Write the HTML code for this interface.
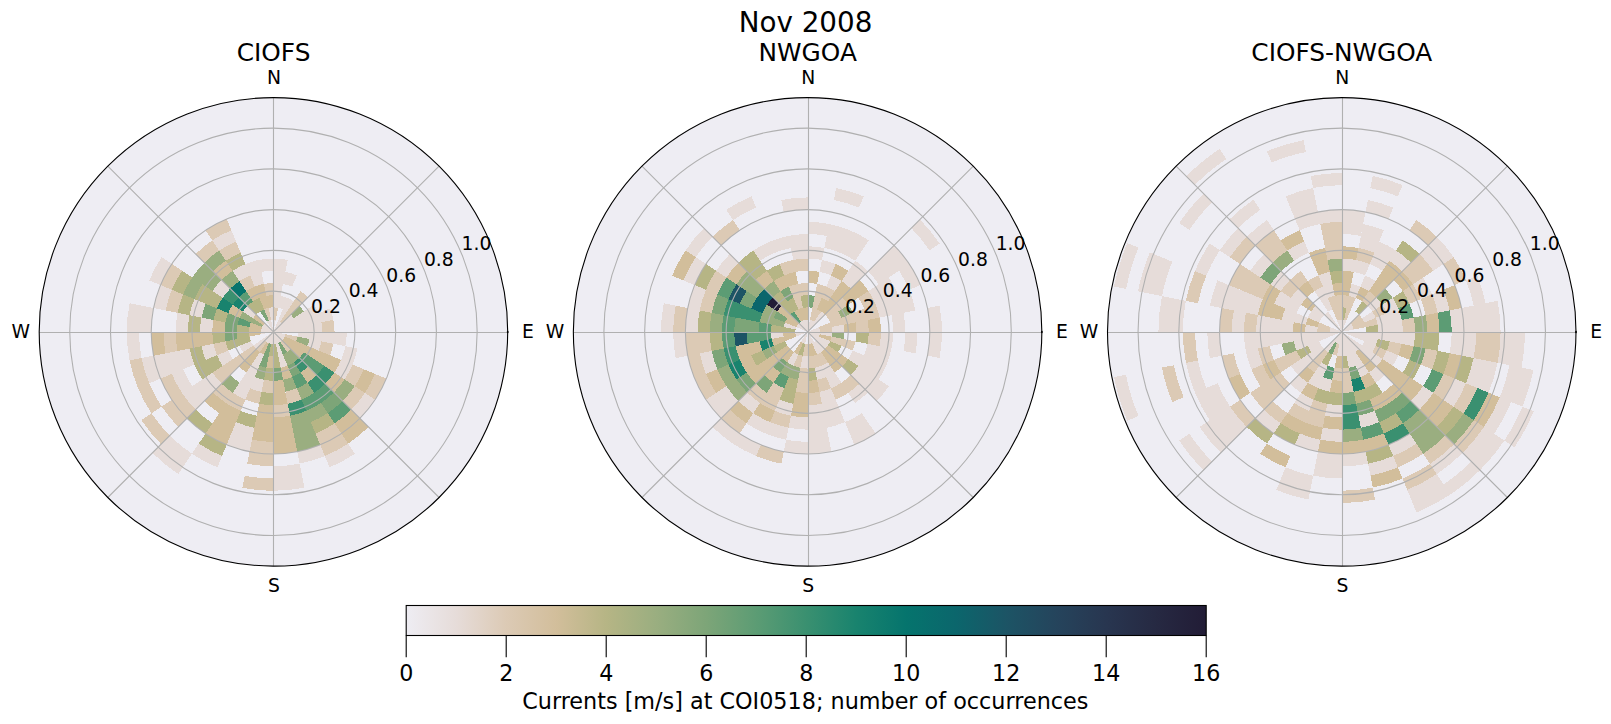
<!DOCTYPE html>
<html><head><meta charset="utf-8"><title>Nov 2008</title><style>html,body{margin:0;padding:0;background:#fff}svg{display:block}</style></head><body>
<svg width="1611" height="724" viewBox="0 0 1611 724" font-family="'DejaVu Sans','Liberation Sans',sans-serif" fill="#000">
<rect width="1611" height="724" fill="#fff"/>
<g>
<circle cx="273.45" cy="331.85" r="234.25" fill="#eeedf3"/>
<clipPath id="c0"><circle cx="273.45" cy="331.85" r="234.25"/></clipPath>
<g clip-path="url(#c0)">
<g shape-rendering="crispEdges">
<path fill="#e6dcd9" d="M273.45 331.85L273.45 319.63A12.22 12.22 0 0 1 275.83 319.86ZM273.45 307.41L273.45 258.52A73.33 73.33 0 0 1 287.76 259.93L278.22 307.88A24.44 24.44 0 0 0 273.45 307.41ZM278.22 307.88L280.60 295.89A36.67 36.67 0 0 1 287.48 297.98L282.80 309.27A24.44 24.44 0 0 0 278.22 307.88ZM282.99 283.90L285.37 271.92A61.11 61.11 0 0 1 296.84 275.39L292.16 286.68A48.89 48.89 0 0 0 282.99 283.90ZM273.45 331.85L287.48 297.98A36.67 36.67 0 0 1 293.82 301.36ZM273.45 331.85L280.24 321.69A12.22 12.22 0 0 1 282.09 323.21ZM273.45 331.85L290.73 314.57A24.44 24.44 0 0 1 293.77 318.27ZM273.45 331.85L314.10 304.69A48.89 48.89 0 0 1 318.62 313.14ZM273.45 331.85L329.91 308.46A61.11 61.11 0 0 1 333.38 319.93ZM273.45 331.85L321.40 322.31A48.89 48.89 0 0 1 322.34 331.85ZM297.89 331.85L346.78 331.85A73.33 73.33 0 0 1 345.37 346.16L297.42 336.62A24.44 24.44 0 0 0 297.89 331.85ZM273.45 331.85L285.44 334.23A12.22 12.22 0 0 1 284.74 336.53ZM309.41 339.00L321.40 341.39A48.89 48.89 0 0 1 318.62 350.56L307.32 345.88A36.67 36.67 0 0 0 309.41 339.00ZM345.37 346.16L357.36 348.54A85.55 85.55 0 0 1 352.49 364.59L341.20 359.91A73.33 73.33 0 0 0 345.37 346.16ZM273.45 331.85L284.74 336.53A12.22 12.22 0 0 1 283.61 338.64ZM341.20 359.91L352.49 364.59A85.55 85.55 0 0 1 344.58 379.38L334.42 372.59A73.33 73.33 0 0 0 341.20 359.91ZM273.45 331.85L283.61 338.64A12.22 12.22 0 0 1 282.09 340.49ZM364.91 392.96L375.07 399.75A122.22 122.22 0 0 1 359.87 418.27L351.23 409.63A110.00 110.00 0 0 0 364.91 392.96ZM273.45 331.85L282.09 340.49A12.22 12.22 0 0 1 280.24 342.01ZM273.45 331.85L280.24 342.01A12.22 12.22 0 0 1 278.13 343.14ZM348.14 443.63L354.93 453.79A146.66 146.66 0 0 1 329.57 467.35L324.90 456.06A134.44 134.44 0 0 0 348.14 443.63ZM273.45 331.85L287.48 365.72A36.67 36.67 0 0 1 280.60 367.81ZM320.22 444.76L324.90 456.06A134.44 134.44 0 0 1 299.68 463.71L297.29 451.72A122.22 122.22 0 0 0 320.22 444.76ZM273.45 331.85L275.83 343.84A12.22 12.22 0 0 1 273.45 344.07ZM299.68 463.71L304.45 487.68A158.88 158.88 0 0 1 273.45 490.73L273.45 466.29A134.44 134.44 0 0 0 299.68 463.71ZM273.45 331.85L273.45 344.07A12.22 12.22 0 0 1 271.07 343.84ZM273.45 331.85L271.07 343.84A12.22 12.22 0 0 1 268.77 343.14ZM263.91 379.80L261.53 391.78A61.11 61.11 0 0 1 250.06 388.31L254.74 377.02A48.89 48.89 0 0 0 263.91 379.80ZM254.38 427.75L249.61 451.72A122.22 122.22 0 0 1 226.68 444.76L236.03 422.18A97.77 97.77 0 0 0 254.38 427.75ZM273.45 331.85L268.77 343.14A12.22 12.22 0 0 1 266.66 342.01ZM264.10 354.43L245.39 399.60A73.33 73.33 0 0 1 232.71 392.82L259.87 352.17A24.44 24.44 0 0 0 264.10 354.43ZM222.00 456.06L217.33 467.35A146.66 146.66 0 0 1 191.97 453.79L198.76 443.63A134.44 134.44 0 0 0 222.00 456.06ZM273.45 331.85L266.66 342.01A12.22 12.22 0 0 1 264.81 340.49ZM191.97 453.79L178.39 474.12A171.10 171.10 0 0 1 152.46 452.84L169.75 435.55A146.66 146.66 0 0 0 191.97 453.79ZM273.45 331.85L256.17 349.13A24.44 24.44 0 0 1 253.13 345.43ZM221.60 383.70L195.67 409.63A110.00 110.00 0 0 1 181.99 392.96L212.48 372.59A73.33 73.33 0 0 0 221.60 383.70ZM253.13 345.43L242.96 352.22A36.67 36.67 0 0 1 239.58 345.88L250.87 341.20A24.44 24.44 0 0 0 253.13 345.43ZM232.80 359.01L222.64 365.80A61.11 61.11 0 0 1 216.99 355.24L228.28 350.56A48.89 48.89 0 0 0 232.80 359.01ZM192.15 386.17L181.99 392.96A110.00 110.00 0 0 1 171.83 373.94L183.12 369.27A97.77 97.77 0 0 0 192.15 386.17ZM216.99 355.24L205.70 359.91A73.33 73.33 0 0 1 201.53 346.16L213.52 343.77A61.11 61.11 0 0 0 216.99 355.24ZM194.41 364.59L149.24 383.30A134.44 134.44 0 0 1 141.59 358.08L189.54 348.54A85.55 85.55 0 0 0 194.41 364.59ZM273.45 331.85L261.46 334.23A12.22 12.22 0 0 1 261.23 331.85ZM141.59 358.08L129.61 360.46A146.66 146.66 0 0 1 126.79 331.85L139.01 331.85A134.44 134.44 0 0 0 141.59 358.08ZM273.45 331.85L261.23 331.85A12.22 12.22 0 0 1 261.46 329.47ZM212.34 331.85L200.12 331.85A73.33 73.33 0 0 1 201.53 317.54L213.52 319.93A61.11 61.11 0 0 0 212.34 331.85ZM187.90 331.85L175.68 331.85A97.77 97.77 0 0 1 177.55 312.78L189.54 315.16A85.55 85.55 0 0 0 187.90 331.85ZM151.23 331.85L126.79 331.85A146.66 146.66 0 0 1 129.61 303.24L153.58 308.01A122.22 122.22 0 0 0 151.23 331.85ZM273.45 331.85L261.46 329.47A12.22 12.22 0 0 1 262.16 327.17ZM201.53 317.54L189.54 315.16A85.55 85.55 0 0 1 194.41 299.11L205.70 303.79A73.33 73.33 0 0 0 201.53 317.54ZM165.57 310.39L153.58 308.01A122.22 122.22 0 0 1 160.54 285.08L171.83 289.76A110.00 110.00 0 0 0 165.57 310.39ZM273.45 331.85L262.16 327.17A12.22 12.22 0 0 1 263.29 325.06ZM160.54 285.08L149.24 280.40A134.44 134.44 0 0 1 161.67 257.16L171.83 263.95A122.22 122.22 0 0 0 160.54 285.08ZM273.45 331.85L263.29 325.06A12.22 12.22 0 0 1 264.81 323.21ZM253.13 318.27L242.96 311.48A36.67 36.67 0 0 1 247.52 305.92L256.17 314.57A24.44 24.44 0 0 0 253.13 318.27ZM222.64 297.90L212.48 291.11A73.33 73.33 0 0 1 221.60 280.00L230.24 288.64A61.11 61.11 0 0 0 222.64 297.90ZM273.45 331.85L266.66 321.69A12.22 12.22 0 0 1 268.77 320.56ZM239.50 281.04L232.71 270.88A73.33 73.33 0 0 1 245.39 264.10L250.06 275.39A61.11 61.11 0 0 0 239.50 281.04ZM219.13 250.55L212.34 240.39A110.00 110.00 0 0 1 231.36 230.23L236.03 241.52A97.77 97.77 0 0 0 219.13 250.55ZM273.45 331.85L268.77 320.56A12.22 12.22 0 0 1 271.07 319.86ZM254.74 286.68L245.39 264.10A73.33 73.33 0 0 1 259.14 259.93L263.91 283.90A48.89 48.89 0 0 0 254.74 286.68ZM271.07 319.86L268.68 307.88A24.44 24.44 0 0 1 273.45 307.41L273.45 319.63A12.22 12.22 0 0 0 271.07 319.86ZM261.53 271.92L259.14 259.93A73.33 73.33 0 0 1 273.45 258.52L273.45 270.74A61.11 61.11 0 0 0 261.53 271.92Z"/>
<path fill="#dccab5" d="M273.45 319.63L273.45 307.41A24.44 24.44 0 0 1 278.22 307.88L275.83 319.86A12.22 12.22 0 0 0 273.45 319.63ZM280.24 321.69L300.61 291.20A48.89 48.89 0 0 1 308.02 297.28L282.09 323.21A12.22 12.22 0 0 0 280.24 321.69ZM321.40 322.31L333.38 319.93A61.11 61.11 0 0 1 334.56 331.85L322.34 331.85A48.89 48.89 0 0 0 321.40 322.31ZM285.44 334.23L297.42 336.62A24.44 24.44 0 0 1 296.03 341.20L284.74 336.53A12.22 12.22 0 0 0 285.44 334.23ZM321.40 341.39L333.38 343.77A61.11 61.11 0 0 1 329.91 355.24L318.62 350.56A48.89 48.89 0 0 0 321.40 341.39ZM352.49 364.59L363.78 369.27A97.77 97.77 0 0 1 354.75 386.17L344.58 379.38A85.55 85.55 0 0 0 352.49 364.59ZM375.07 373.94L386.36 378.62A122.22 122.22 0 0 1 375.07 399.75L364.91 392.96A110.00 110.00 0 0 0 375.07 373.94ZM354.75 386.17L364.91 392.96A110.00 110.00 0 0 1 351.23 409.63L342.59 400.99A97.77 97.77 0 0 0 354.75 386.17ZM282.09 340.49L290.73 349.13A24.44 24.44 0 0 1 287.03 352.17L280.24 342.01A12.22 12.22 0 0 0 282.09 340.49ZM334.56 423.31L348.14 443.63A134.44 134.44 0 0 1 324.90 456.06L315.54 433.47A110.00 110.00 0 0 0 334.56 423.31ZM296.84 388.31L301.51 399.60A73.33 73.33 0 0 1 287.76 403.77L285.37 391.78A61.11 61.11 0 0 0 296.84 388.31ZM287.76 403.77L290.14 415.76A85.55 85.55 0 0 1 273.45 417.40L273.45 405.18A73.33 73.33 0 0 0 287.76 403.77ZM273.45 380.74L273.45 392.96A61.11 61.11 0 0 1 261.53 391.78L263.91 379.80A48.89 48.89 0 0 0 273.45 380.74ZM273.45 441.85L273.45 466.29A134.44 134.44 0 0 1 247.22 463.71L251.99 439.73A110.00 110.00 0 0 0 273.45 441.85ZM273.45 478.51L273.45 490.73A158.88 158.88 0 0 1 242.45 487.68L244.84 475.69A146.66 146.66 0 0 0 273.45 478.51ZM261.53 391.78L259.14 403.77A73.33 73.33 0 0 1 245.39 399.60L250.06 388.31A61.11 61.11 0 0 0 261.53 391.78ZM245.39 399.60L240.71 410.89A85.55 85.55 0 0 1 225.92 402.98L232.71 392.82A73.33 73.33 0 0 0 245.39 399.60ZM266.66 342.01L259.87 352.17A24.44 24.44 0 0 1 256.17 349.13L264.81 340.49A12.22 12.22 0 0 0 266.66 342.01ZM232.71 392.82L225.92 402.98A85.55 85.55 0 0 1 212.96 392.34L221.60 383.70A73.33 73.33 0 0 0 232.71 392.82ZM256.17 349.13L221.60 383.70A73.33 73.33 0 0 1 212.48 372.59L253.13 345.43A24.44 24.44 0 0 0 256.17 349.13ZM195.67 409.63L178.39 426.91A134.44 134.44 0 0 1 161.67 406.54L181.99 392.96A110.00 110.00 0 0 0 195.67 409.63ZM169.75 435.55L161.10 444.20A158.88 158.88 0 0 1 141.34 420.12L151.51 413.33A146.66 146.66 0 0 0 169.75 435.55ZM181.99 392.96L171.83 399.75A122.22 122.22 0 0 1 160.54 378.62L171.83 373.94A110.00 110.00 0 0 0 181.99 392.96ZM161.67 406.54L151.51 413.33A146.66 146.66 0 0 1 137.95 387.97L149.24 383.30A134.44 134.44 0 0 0 161.67 406.54ZM228.28 350.56L216.99 355.24A61.11 61.11 0 0 1 213.52 343.77L225.50 341.39A48.89 48.89 0 0 0 228.28 350.56ZM149.24 383.30L137.95 387.97A146.66 146.66 0 0 1 129.61 360.46L141.59 358.08A134.44 134.44 0 0 0 149.24 383.30ZM177.55 350.92L165.57 353.31A110.00 110.00 0 0 1 163.45 331.85L175.68 331.85A97.77 97.77 0 0 0 177.55 350.92ZM177.55 312.78L165.57 310.39A110.00 110.00 0 0 1 171.83 289.76L183.12 294.43A97.77 97.77 0 0 0 177.55 312.78ZM171.83 289.76L160.54 285.08A122.22 122.22 0 0 1 171.83 263.95L181.99 270.74A110.00 110.00 0 0 0 171.83 289.76ZM204.31 262.71L195.67 254.07A110.00 110.00 0 0 1 212.34 240.39L219.13 250.55A97.77 97.77 0 0 0 204.31 262.71ZM246.29 291.20L239.50 281.04A61.11 61.11 0 0 1 250.06 275.39L254.74 286.68A48.89 48.89 0 0 0 246.29 291.20ZM225.92 260.72L219.13 250.55A97.77 97.77 0 0 1 236.03 241.52L240.71 252.81A85.55 85.55 0 0 0 225.92 260.72ZM212.34 240.39L205.55 230.23A122.22 122.22 0 0 1 226.68 218.94L231.36 230.23A110.00 110.00 0 0 0 212.34 240.39ZM268.77 320.56L264.10 309.27A24.44 24.44 0 0 1 268.68 307.88L271.07 319.86A12.22 12.22 0 0 0 268.77 320.56ZM266.30 295.89L263.91 283.90A48.89 48.89 0 0 1 273.45 282.96L273.45 295.18A36.67 36.67 0 0 0 266.30 295.89Z"/>
<path fill="#9aae80" d="M290.73 314.57L299.38 305.92A36.67 36.67 0 0 1 303.94 311.48L293.77 318.27A24.44 24.44 0 0 0 290.73 314.57ZM297.42 336.62L309.41 339.00A36.67 36.67 0 0 1 307.32 345.88L296.03 341.20A24.44 24.44 0 0 0 297.42 336.62ZM344.58 379.38L354.75 386.17A97.77 97.77 0 0 1 342.59 400.99L333.94 392.34A85.55 85.55 0 0 0 344.58 379.38ZM290.73 349.13L299.38 357.78A36.67 36.67 0 0 1 293.82 362.34L287.03 352.17A24.44 24.44 0 0 0 290.73 349.13ZM287.03 352.17L293.82 362.34A36.67 36.67 0 0 1 287.48 365.72L282.80 354.43A24.44 24.44 0 0 0 287.03 352.17ZM307.40 382.66L314.19 392.82A73.33 73.33 0 0 1 301.51 399.60L296.84 388.31A61.11 61.11 0 0 0 307.40 382.66ZM320.98 402.98L327.77 413.15A97.77 97.77 0 0 1 310.87 422.18L306.19 410.89A85.55 85.55 0 0 0 320.98 402.98ZM292.16 377.02L296.84 388.31A61.11 61.11 0 0 1 285.37 391.78L282.99 379.80A48.89 48.89 0 0 0 292.16 377.02ZM306.19 410.89L320.22 444.76A122.22 122.22 0 0 1 297.29 451.72L290.14 415.76A85.55 85.55 0 0 0 306.19 410.89ZM266.30 367.81L263.91 379.80A48.89 48.89 0 0 1 254.74 377.02L259.42 365.72A36.67 36.67 0 0 0 266.30 367.81ZM239.50 382.66L232.71 392.82A73.33 73.33 0 0 1 221.60 383.70L230.24 375.06A61.11 61.11 0 0 0 239.50 382.66ZM262.16 327.17L239.58 317.82A36.67 36.67 0 0 1 242.96 311.48L263.29 325.06A12.22 12.22 0 0 0 262.16 327.17ZM194.41 299.11L183.12 294.43A97.77 97.77 0 0 1 192.15 277.53L202.32 284.32A85.55 85.55 0 0 0 194.41 299.11ZM212.48 291.11L192.15 277.53A97.77 97.77 0 0 1 204.31 262.71L221.60 280.00A73.33 73.33 0 0 0 212.48 291.11ZM230.24 288.64L221.60 280.00A73.33 73.33 0 0 1 232.71 270.88L239.50 281.04A61.11 61.11 0 0 0 230.24 288.64ZM212.96 271.36L204.31 262.71A97.77 97.77 0 0 1 219.13 250.55L225.92 260.72A85.55 85.55 0 0 0 212.96 271.36Z"/>
<path fill="#d2be9b" d="M284.74 336.53L341.20 359.91A73.33 73.33 0 0 1 334.42 372.59L283.61 338.64A12.22 12.22 0 0 0 284.74 336.53ZM363.78 369.27L375.07 373.94A110.00 110.00 0 0 1 364.91 392.96L354.75 386.17A97.77 97.77 0 0 0 363.78 369.27ZM283.61 338.64L303.94 352.22A36.67 36.67 0 0 1 299.38 357.78L282.09 340.49A12.22 12.22 0 0 0 283.61 338.64ZM334.42 372.59L344.58 379.38A85.55 85.55 0 0 1 333.94 392.34L325.30 383.70A73.33 73.33 0 0 0 334.42 372.59ZM308.02 366.42L316.66 375.06A61.11 61.11 0 0 1 307.40 382.66L300.61 372.50A48.89 48.89 0 0 0 308.02 366.42ZM351.23 409.63L368.51 426.91A134.44 134.44 0 0 1 348.14 443.63L334.56 423.31A110.00 110.00 0 0 0 351.23 409.63ZM287.48 365.72L292.16 377.02A48.89 48.89 0 0 1 282.99 379.80L280.60 367.81A36.67 36.67 0 0 0 287.48 365.72ZM282.99 379.80L287.76 403.77A73.33 73.33 0 0 1 273.45 405.18L273.45 380.74A48.89 48.89 0 0 0 282.99 379.80ZM290.14 415.76L297.29 451.72A122.22 122.22 0 0 1 273.45 454.07L273.45 417.40A85.55 85.55 0 0 0 290.14 415.76ZM273.45 356.29L273.45 368.52A36.67 36.67 0 0 1 266.30 367.81L268.68 355.82A24.44 24.44 0 0 0 273.45 356.29ZM273.45 405.18L273.45 441.85A110.00 110.00 0 0 1 251.99 439.73L259.14 403.77A73.33 73.33 0 0 0 273.45 405.18ZM268.77 343.14L264.10 354.43A24.44 24.44 0 0 1 259.87 352.17L266.66 342.01A12.22 12.22 0 0 0 268.77 343.14ZM240.71 410.89L226.68 444.76A122.22 122.22 0 0 1 205.55 433.47L225.92 402.98A85.55 85.55 0 0 0 240.71 410.89ZM259.87 352.17L246.29 372.50A48.89 48.89 0 0 1 238.88 366.42L256.17 349.13A24.44 24.44 0 0 0 259.87 352.17ZM225.92 402.98L219.13 413.15A97.77 97.77 0 0 1 204.31 400.99L212.96 392.34A85.55 85.55 0 0 0 225.92 402.98ZM261.46 334.23L249.48 336.62A24.44 24.44 0 0 1 249.01 331.85L261.23 331.85A12.22 12.22 0 0 0 261.46 334.23ZM213.52 343.77L177.55 350.92A97.77 97.77 0 0 1 175.68 331.85L212.34 331.85A61.11 61.11 0 0 0 213.52 343.77ZM165.57 353.31L153.58 355.69A122.22 122.22 0 0 1 151.23 331.85L163.45 331.85A110.00 110.00 0 0 0 165.57 353.31ZM261.23 331.85L249.01 331.85A24.44 24.44 0 0 1 249.48 327.08L261.46 329.47A12.22 12.22 0 0 0 261.23 331.85ZM224.56 331.85L212.34 331.85A61.11 61.11 0 0 1 213.52 319.93L225.50 322.31A48.89 48.89 0 0 0 224.56 331.85ZM261.46 329.47L249.48 327.08A24.44 24.44 0 0 1 250.87 322.50L262.16 327.17A12.22 12.22 0 0 0 261.46 329.47ZM239.58 317.82L228.28 313.14A48.89 48.89 0 0 1 232.80 304.69L242.96 311.48A36.67 36.67 0 0 0 239.58 317.82ZM263.29 325.06L253.13 318.27A24.44 24.44 0 0 1 256.17 314.57L264.81 323.21A12.22 12.22 0 0 0 263.29 325.06ZM221.60 280.00L212.96 271.36A85.55 85.55 0 0 1 225.92 260.72L232.71 270.88A73.33 73.33 0 0 0 221.60 280.00ZM253.08 301.36L246.29 291.20A48.89 48.89 0 0 1 254.74 286.68L259.42 297.98A36.67 36.67 0 0 0 253.08 301.36ZM264.10 309.27L254.74 286.68A48.89 48.89 0 0 1 263.91 283.90L268.68 307.88A24.44 24.44 0 0 0 264.10 309.27ZM268.68 307.88L266.30 295.89A36.67 36.67 0 0 1 273.45 295.18L273.45 307.41A24.44 24.44 0 0 0 268.68 307.88Z"/>
<path fill="#5c9c74" d="M303.94 352.22L324.26 365.80A61.11 61.11 0 0 1 316.66 375.06L299.38 357.78A36.67 36.67 0 0 0 303.94 352.22ZM325.30 383.70L333.94 392.34A85.55 85.55 0 0 1 320.98 402.98L314.19 392.82A73.33 73.33 0 0 0 325.30 383.70ZM342.59 400.99L351.23 409.63A110.00 110.00 0 0 1 334.56 423.31L327.77 413.15A97.77 97.77 0 0 0 342.59 400.99ZM300.61 372.50L307.40 382.66A61.11 61.11 0 0 1 296.84 388.31L292.16 377.02A48.89 48.89 0 0 0 300.61 372.50ZM314.19 392.82L320.98 402.98A85.55 85.55 0 0 1 306.19 410.89L301.51 399.60A73.33 73.33 0 0 0 314.19 392.82ZM249.48 327.08L237.49 324.70A36.67 36.67 0 0 1 239.58 317.82L250.87 322.50A24.44 24.44 0 0 0 249.48 327.08ZM247.52 305.92L238.88 297.28A48.89 48.89 0 0 1 246.29 291.20L253.08 301.36A36.67 36.67 0 0 0 247.52 305.92Z"/>
<path fill="#3a9070" d="M324.26 365.80L334.42 372.59A73.33 73.33 0 0 1 325.30 383.70L316.66 375.06A61.11 61.11 0 0 0 324.26 365.80ZM299.38 357.78L308.02 366.42A48.89 48.89 0 0 1 300.61 372.50L293.82 362.34A36.67 36.67 0 0 0 299.38 357.78ZM316.66 375.06L325.30 383.70A73.33 73.33 0 0 1 314.19 392.82L307.40 382.66A61.11 61.11 0 0 0 316.66 375.06ZM301.51 399.60L306.19 410.89A85.55 85.55 0 0 1 290.14 415.76L287.76 403.77A73.33 73.33 0 0 0 301.51 399.60ZM232.80 304.69L222.64 297.90A61.11 61.11 0 0 1 230.24 288.64L238.88 297.28A48.89 48.89 0 0 0 232.80 304.69Z"/>
<path fill="#7da578" d="M333.94 392.34L342.59 400.99A97.77 97.77 0 0 1 327.77 413.15L320.98 402.98A85.55 85.55 0 0 0 333.94 392.34ZM280.24 342.01L287.03 352.17A24.44 24.44 0 0 1 282.80 354.43L278.13 343.14A12.22 12.22 0 0 0 280.24 342.01ZM293.82 362.34L300.61 372.50A48.89 48.89 0 0 1 292.16 377.02L287.48 365.72A36.67 36.67 0 0 0 293.82 362.34ZM280.60 367.81L282.99 379.80A48.89 48.89 0 0 1 273.45 380.74L273.45 368.52A36.67 36.67 0 0 0 280.60 367.81ZM271.07 343.84L266.30 367.81A36.67 36.67 0 0 1 259.42 365.72L268.77 343.14A12.22 12.22 0 0 0 271.07 343.84ZM237.49 339.00L225.50 341.39A48.89 48.89 0 0 1 224.56 331.85L236.78 331.85A36.67 36.67 0 0 0 237.49 339.00ZM236.78 331.85L224.56 331.85A48.89 48.89 0 0 1 225.50 322.31L237.49 324.70A36.67 36.67 0 0 0 236.78 331.85ZM237.49 324.70L225.50 322.31A48.89 48.89 0 0 1 228.28 313.14L239.58 317.82A36.67 36.67 0 0 0 237.49 324.70ZM213.52 319.93L201.53 317.54A73.33 73.33 0 0 1 205.70 303.79L216.99 308.46A61.11 61.11 0 0 0 213.52 319.93ZM266.66 321.69L259.87 311.53A24.44 24.44 0 0 1 264.10 309.27L268.77 320.56A12.22 12.22 0 0 0 266.66 321.69Z"/>
<path fill="#b6b585" d="M327.77 413.15L334.56 423.31A110.00 110.00 0 0 1 315.54 433.47L310.87 422.18A97.77 97.77 0 0 0 327.77 413.15ZM275.83 343.84L280.60 367.81A36.67 36.67 0 0 1 273.45 368.52L273.45 344.07A12.22 12.22 0 0 0 275.83 343.84ZM273.45 344.07L273.45 356.29A24.44 24.44 0 0 1 268.68 355.82L271.07 343.84A12.22 12.22 0 0 0 273.45 344.07ZM273.45 368.52L273.45 380.74A48.89 48.89 0 0 1 263.91 379.80L266.30 367.81A36.67 36.67 0 0 0 273.45 368.52ZM273.45 392.96L273.45 405.18A73.33 73.33 0 0 1 259.14 403.77L261.53 391.78A61.11 61.11 0 0 0 273.45 392.96ZM256.76 415.76L254.38 427.75A97.77 97.77 0 0 1 236.03 422.18L240.71 410.89A85.55 85.55 0 0 0 256.76 415.76ZM226.68 444.76L222.00 456.06A134.44 134.44 0 0 1 198.76 443.63L205.55 433.47A122.22 122.22 0 0 0 226.68 444.76ZM212.34 423.31L205.55 433.47A122.22 122.22 0 0 1 187.03 418.27L195.67 409.63A110.00 110.00 0 0 0 212.34 423.31ZM222.64 365.80L202.32 379.38A85.55 85.55 0 0 1 194.41 364.59L216.99 355.24A61.11 61.11 0 0 0 222.64 365.80ZM250.87 341.20L228.28 350.56A48.89 48.89 0 0 1 225.50 341.39L249.48 336.62A24.44 24.44 0 0 0 250.87 341.20ZM205.70 359.91L194.41 364.59A85.55 85.55 0 0 1 189.54 348.54L201.53 346.16A73.33 73.33 0 0 0 205.70 359.91ZM249.48 336.62L237.49 339.00A36.67 36.67 0 0 1 236.78 331.85L249.01 331.85A24.44 24.44 0 0 0 249.48 336.62ZM225.50 341.39L213.52 343.77A61.11 61.11 0 0 1 212.34 331.85L224.56 331.85A48.89 48.89 0 0 0 225.50 341.39ZM249.01 331.85L236.78 331.85A36.67 36.67 0 0 1 237.49 324.70L249.48 327.08A24.44 24.44 0 0 0 249.01 331.85ZM200.12 331.85L187.90 331.85A85.55 85.55 0 0 1 189.54 315.16L201.53 317.54A73.33 73.33 0 0 0 200.12 331.85ZM225.50 322.31L213.52 319.93A61.11 61.11 0 0 1 216.99 308.46L228.28 313.14A48.89 48.89 0 0 0 225.50 322.31ZM189.54 315.16L177.55 312.78A97.77 97.77 0 0 1 183.12 294.43L194.41 299.11A85.55 85.55 0 0 0 189.54 315.16ZM216.99 308.46L194.41 299.11A85.55 85.55 0 0 1 202.32 284.32L222.64 297.90A61.11 61.11 0 0 0 216.99 308.46ZM183.12 294.43L171.83 289.76A110.00 110.00 0 0 1 181.99 270.74L192.15 277.53A97.77 97.77 0 0 0 183.12 294.43ZM256.17 314.57L247.52 305.92A36.67 36.67 0 0 1 253.08 301.36L259.87 311.53A24.44 24.44 0 0 0 256.17 314.57ZM259.87 311.53L253.08 301.36A36.67 36.67 0 0 1 259.42 297.98L264.10 309.27A24.44 24.44 0 0 0 259.87 311.53ZM232.71 270.88L225.92 260.72A85.55 85.55 0 0 1 240.71 252.81L245.39 264.10A73.33 73.33 0 0 0 232.71 270.88Z"/>
<path fill="#19836e" d="M228.28 313.14L216.99 308.46A61.11 61.11 0 0 1 222.64 297.90L232.80 304.69A48.89 48.89 0 0 0 228.28 313.14ZM242.96 311.48L232.80 304.69A48.89 48.89 0 0 1 238.88 297.28L247.52 305.92A36.67 36.67 0 0 0 242.96 311.48Z"/>
<path fill="#05746d" d="M238.88 297.28L230.24 288.64A61.11 61.11 0 0 1 239.50 281.04L246.29 291.20A48.89 48.89 0 0 0 238.88 297.28Z"/>
</g>
<path d="M273.45 331.85L439.09 166.21M273.45 331.85L439.09 497.49M273.45 331.85L107.81 497.49M273.45 331.85L107.81 166.21M273.5 97.60V566.10M39.20 332.5H507.70" stroke="#b0b0b0" stroke-width="1.1" fill="none"/>
<circle cx="273.45" cy="331.85" r="40.74" stroke="#b0b0b0" stroke-width="1.1" fill="none"/>
<circle cx="273.45" cy="331.85" r="81.48" stroke="#b0b0b0" stroke-width="1.1" fill="none"/>
<circle cx="273.45" cy="331.85" r="122.22" stroke="#b0b0b0" stroke-width="1.1" fill="none"/>
<circle cx="273.45" cy="331.85" r="162.96" stroke="#b0b0b0" stroke-width="1.1" fill="none"/>
<circle cx="273.45" cy="331.85" r="203.70" stroke="#b0b0b0" stroke-width="1.1" fill="none"/>
</g>
<circle cx="273.45" cy="331.85" r="234.25" stroke="#000" stroke-width="1.1" fill="none"/>
<ellipse cx="507.70" cy="331.95" rx="0.9" ry="1.2" fill="#000"/>
<g font-size="18.75">
<text x="274.05" y="83.8" text-anchor="middle">N</text>
<text x="274.05" y="592" text-anchor="middle">S</text>
<text x="527.9" y="338.2" text-anchor="middle">E</text>
<text x="20.8" y="338.2" text-anchor="middle">W</text>
<text x="311.1" y="312.8">0.2</text>
<text x="348.7" y="297.2">0.4</text>
<text x="386.3" y="281.6">0.6</text>
<text x="423.9" y="266.0">0.8</text>
<text x="461.5" y="250.4">1.0</text>
</g>
<text x="273.55" y="60.8" font-size="24.8" text-anchor="middle">CIOFS</text>
</g>
<g>
<circle cx="807.6" cy="331.85" r="234.25" fill="#eeedf3"/>
<clipPath id="c1"><circle cx="807.6" cy="331.85" r="234.25"/></clipPath>
<g clip-path="url(#c1)">
<g shape-rendering="crispEdges">
<path fill="#7da578" d="M807.60 307.41L807.60 295.18A36.67 36.67 0 0 1 814.75 295.89L812.37 307.88A24.44 24.44 0 0 0 807.60 307.41ZM787.23 362.34L780.44 372.50A48.89 48.89 0 0 1 773.03 366.42L781.67 357.78A36.67 36.67 0 0 0 787.23 362.34ZM773.65 382.66L766.86 392.82A73.33 73.33 0 0 1 755.75 383.70L764.39 375.06A61.11 61.11 0 0 0 773.65 382.66ZM755.75 383.70L747.11 392.34A85.55 85.55 0 0 1 736.47 379.38L746.63 372.59A73.33 73.33 0 0 0 755.75 383.70ZM728.56 364.59L717.27 369.27A97.77 97.77 0 0 1 711.70 350.92L723.69 348.54A85.55 85.55 0 0 0 728.56 364.59ZM758.71 331.85L734.27 331.85A73.33 73.33 0 0 1 735.68 317.54L759.65 322.31A48.89 48.89 0 0 0 758.71 331.85ZM723.69 315.16L711.70 312.78A97.77 97.77 0 0 1 717.27 294.43L728.56 299.11A85.55 85.55 0 0 0 723.69 315.16ZM785.02 322.50L773.73 317.82A36.67 36.67 0 0 1 777.11 311.48L787.28 318.27A24.44 24.44 0 0 0 785.02 322.50ZM751.14 308.46L739.85 303.79A73.33 73.33 0 0 1 746.63 291.11L756.79 297.90A61.11 61.11 0 0 0 751.14 308.46ZM787.23 301.36L780.44 291.20A48.89 48.89 0 0 1 788.89 286.68L793.57 297.98A36.67 36.67 0 0 0 787.23 301.36Z"/>
<path fill="#d2be9b" d="M807.60 282.96L807.60 270.74A61.11 61.11 0 0 1 819.52 271.92L817.14 283.90A48.89 48.89 0 0 0 807.60 282.96ZM816.95 309.27L821.63 297.98A36.67 36.67 0 0 1 827.97 301.36L821.18 311.53A24.44 24.44 0 0 0 816.95 309.27ZM830.99 275.39L835.66 264.10A73.33 73.33 0 0 1 848.34 270.88L841.55 281.04A61.11 61.11 0 0 0 830.99 275.39ZM821.18 311.53L841.55 281.04A61.11 61.11 0 0 1 850.81 288.64L824.88 314.57A24.44 24.44 0 0 0 821.18 311.53ZM842.17 297.28L859.45 280.00A73.33 73.33 0 0 1 868.57 291.11L848.25 304.69A48.89 48.89 0 0 0 842.17 297.28ZM843.56 324.70L855.55 322.31A48.89 48.89 0 0 1 856.49 331.85L844.27 331.85A36.67 36.67 0 0 0 843.56 324.70ZM867.53 319.93L879.52 317.54A73.33 73.33 0 0 1 880.93 331.85L868.71 331.85A61.11 61.11 0 0 0 867.53 319.93ZM819.59 334.23L831.57 336.62A24.44 24.44 0 0 1 830.18 341.20L818.89 336.53A12.22 12.22 0 0 0 819.59 334.23ZM827.92 345.43L848.25 359.01A48.89 48.89 0 0 1 842.17 366.42L824.88 349.13A24.44 24.44 0 0 0 827.92 345.43ZM824.88 349.13L842.17 366.42A48.89 48.89 0 0 1 834.76 372.50L821.18 352.17A24.44 24.44 0 0 0 824.88 349.13ZM812.28 343.14L816.95 354.43A24.44 24.44 0 0 1 812.37 355.82L809.98 343.84A12.22 12.22 0 0 0 812.28 343.14ZM809.98 343.84L812.37 355.82A24.44 24.44 0 0 1 807.60 356.29L807.60 344.07A12.22 12.22 0 0 0 809.98 343.84ZM817.14 379.80L819.52 391.78A61.11 61.11 0 0 1 807.60 392.96L807.60 380.74A48.89 48.89 0 0 0 817.14 379.80ZM807.60 392.96L807.60 417.40A85.55 85.55 0 0 1 790.91 415.76L795.68 391.78A61.11 61.11 0 0 0 807.60 392.96ZM802.92 343.14L798.25 354.43A24.44 24.44 0 0 1 794.02 352.17L800.81 342.01A12.22 12.22 0 0 0 802.92 343.14ZM774.86 410.89L770.18 422.18A97.77 97.77 0 0 1 753.28 413.15L760.07 402.98A85.55 85.55 0 0 0 774.86 410.89ZM794.02 352.17L787.23 362.34A36.67 36.67 0 0 1 781.67 357.78L790.32 349.13A24.44 24.44 0 0 0 794.02 352.17ZM780.44 372.50L773.65 382.66A61.11 61.11 0 0 1 764.39 375.06L773.03 366.42A48.89 48.89 0 0 0 780.44 372.50ZM753.28 413.15L746.49 423.31A110.00 110.00 0 0 1 729.82 409.63L738.46 400.99A97.77 97.77 0 0 0 753.28 413.15ZM790.32 349.13L755.75 383.70A73.33 73.33 0 0 1 746.63 372.59L787.28 345.43A24.44 24.44 0 0 0 790.32 349.13ZM756.79 365.80L746.63 372.59A73.33 73.33 0 0 1 739.85 359.91L751.14 355.24A61.11 61.11 0 0 0 756.79 365.80ZM726.30 386.17L716.14 392.96A110.00 110.00 0 0 1 705.98 373.94L717.27 369.27A97.77 97.77 0 0 0 726.30 386.17ZM796.31 336.53L773.73 345.88A36.67 36.67 0 0 1 771.64 339.00L795.61 334.23A12.22 12.22 0 0 0 796.31 336.53ZM762.43 350.56L739.85 359.91A73.33 73.33 0 0 1 735.68 346.16L759.65 341.39A48.89 48.89 0 0 0 762.43 350.56ZM795.61 334.23L783.63 336.62A24.44 24.44 0 0 1 783.16 331.85L795.38 331.85A12.22 12.22 0 0 0 795.61 334.23ZM796.31 327.17L785.02 322.50A24.44 24.44 0 0 1 787.28 318.27L797.44 325.06A12.22 12.22 0 0 0 796.31 327.17ZM683.39 280.40L672.10 275.73A146.66 146.66 0 0 1 685.66 250.37L695.82 257.16A134.44 134.44 0 0 0 683.39 280.40ZM797.44 325.06L777.11 311.48A36.67 36.67 0 0 1 781.67 305.92L798.96 323.21A12.22 12.22 0 0 0 797.44 325.06ZM736.47 284.32L726.30 277.53A97.77 97.77 0 0 1 738.46 262.71L747.11 271.36A85.55 85.55 0 0 0 736.47 284.32ZM764.39 288.64L755.75 280.00A73.33 73.33 0 0 1 766.86 270.88L773.65 281.04A61.11 61.11 0 0 0 764.39 288.64ZM800.81 321.69L794.02 311.53A24.44 24.44 0 0 1 798.25 309.27L802.92 320.56A12.22 12.22 0 0 0 800.81 321.69ZM780.44 291.20L773.65 281.04A61.11 61.11 0 0 1 784.21 275.39L788.89 286.68A48.89 48.89 0 0 0 780.44 291.20ZM802.92 320.56L798.25 309.27A24.44 24.44 0 0 1 802.83 307.88L805.22 319.86A12.22 12.22 0 0 0 802.92 320.56ZM788.89 286.68L784.21 275.39A61.11 61.11 0 0 1 795.68 271.92L798.06 283.90A48.89 48.89 0 0 0 788.89 286.68ZM805.22 319.86L802.83 307.88A24.44 24.44 0 0 1 807.60 307.41L807.60 319.63A12.22 12.22 0 0 0 805.22 319.86Z"/>
<path fill="#e6dcd9" d="M807.60 258.52L807.60 246.30A85.55 85.55 0 0 1 824.29 247.94L821.91 259.93A73.33 73.33 0 0 0 807.60 258.52ZM807.60 234.08L807.60 221.85A110.00 110.00 0 0 1 829.06 223.97L826.67 235.95A97.77 97.77 0 0 0 807.60 234.08ZM807.60 331.85L809.98 319.86A12.22 12.22 0 0 1 812.28 320.56ZM819.52 271.92L821.91 259.93A73.33 73.33 0 0 1 835.66 264.10L830.99 275.39A61.11 61.11 0 0 0 819.52 271.92ZM824.29 247.94L829.06 223.97A110.00 110.00 0 0 1 849.69 230.23L840.34 252.81A85.55 85.55 0 0 0 824.29 247.94ZM833.83 199.99L836.21 188.01A146.66 146.66 0 0 1 863.72 196.35L859.05 207.64A134.44 134.44 0 0 0 833.83 199.99ZM807.60 331.85L812.28 320.56A12.22 12.22 0 0 1 814.39 321.69ZM826.31 286.68L830.99 275.39A61.11 61.11 0 0 1 841.55 281.04L834.76 291.20A48.89 48.89 0 0 0 826.31 286.68ZM840.34 252.81L849.69 230.23A110.00 110.00 0 0 1 868.71 240.39L855.13 260.72A85.55 85.55 0 0 0 840.34 252.81ZM807.60 331.85L821.18 311.53A24.44 24.44 0 0 1 824.88 314.57ZM841.55 281.04L855.13 260.72A85.55 85.55 0 0 1 868.09 271.36L850.81 288.64A61.11 61.11 0 0 0 841.55 281.04ZM868.09 271.36L894.02 245.43A122.22 122.22 0 0 1 909.22 263.95L878.73 284.32A85.55 85.55 0 0 0 868.09 271.36ZM911.30 228.15L919.95 219.50A158.88 158.88 0 0 1 939.71 243.58L929.54 250.37A146.66 146.66 0 0 0 911.30 228.15ZM868.57 291.11L888.90 277.53A97.77 97.77 0 0 1 897.93 294.43L875.35 303.79A73.33 73.33 0 0 0 868.57 291.11ZM899.06 270.74L909.22 263.95A122.22 122.22 0 0 1 920.51 285.08L909.22 289.76A110.00 110.00 0 0 0 899.06 270.74ZM807.60 331.85L818.89 327.17A12.22 12.22 0 0 1 819.59 329.47ZM875.35 303.79L909.22 289.76A110.00 110.00 0 0 1 915.48 310.39L879.52 317.54A73.33 73.33 0 0 0 875.35 303.79ZM807.60 331.85L819.59 329.47A12.22 12.22 0 0 1 819.82 331.85ZM831.57 327.08L843.56 324.70A36.67 36.67 0 0 1 844.27 331.85L832.04 331.85A24.44 24.44 0 0 0 831.57 327.08ZM891.51 315.16L903.50 312.78A97.77 97.77 0 0 1 905.37 331.85L893.15 331.85A85.55 85.55 0 0 0 891.51 315.16ZM927.47 308.01L939.46 305.62A134.44 134.44 0 0 1 942.04 331.85L929.82 331.85A122.22 122.22 0 0 0 927.47 308.01ZM807.60 331.85L832.04 331.85A24.44 24.44 0 0 1 831.57 336.62ZM880.93 331.85L893.15 331.85A85.55 85.55 0 0 1 891.51 348.54L879.52 346.16A73.33 73.33 0 0 0 880.93 331.85ZM905.37 331.85L917.60 331.85A110.00 110.00 0 0 1 915.48 353.31L903.50 350.92A97.77 97.77 0 0 0 905.37 331.85ZM929.82 331.85L942.04 331.85A134.44 134.44 0 0 1 939.46 358.08L927.47 355.69A122.22 122.22 0 0 0 929.82 331.85ZM807.60 331.85L819.59 334.23A12.22 12.22 0 0 1 818.89 336.53ZM867.53 343.77L891.51 348.54A85.55 85.55 0 0 1 886.64 364.59L864.06 355.24A61.11 61.11 0 0 0 867.53 343.77ZM807.60 331.85L830.18 341.20A24.44 24.44 0 0 1 827.92 345.43ZM852.77 350.56L886.64 364.59A85.55 85.55 0 0 1 878.73 379.38L848.25 359.01A48.89 48.89 0 0 0 852.77 350.56ZM807.60 331.85L827.92 345.43A24.44 24.44 0 0 1 824.88 349.13ZM858.41 365.80L888.90 386.17A97.77 97.77 0 0 1 876.74 400.99L850.81 375.06A61.11 61.11 0 0 0 858.41 365.80ZM816.24 340.49L824.88 349.13A24.44 24.44 0 0 1 821.18 352.17L814.39 342.01A12.22 12.22 0 0 0 816.24 340.49ZM859.45 383.70L868.09 392.34A85.55 85.55 0 0 1 855.13 402.98L848.34 392.82A73.33 73.33 0 0 0 859.45 383.70ZM807.60 331.85L821.18 352.17A24.44 24.44 0 0 1 816.95 354.43ZM827.97 362.34L841.55 382.66A61.11 61.11 0 0 1 830.99 388.31L821.63 365.72A36.67 36.67 0 0 0 827.97 362.34ZM861.92 413.15L875.50 433.47A122.22 122.22 0 0 1 854.37 444.76L845.02 422.18A97.77 97.77 0 0 0 861.92 413.15ZM807.60 331.85L812.28 343.14A12.22 12.22 0 0 1 809.98 343.84ZM821.63 365.72L826.31 377.02A48.89 48.89 0 0 1 817.14 379.80L814.75 367.81A36.67 36.67 0 0 0 821.63 365.72ZM830.99 388.31L845.02 422.18A97.77 97.77 0 0 1 826.67 427.75L819.52 391.78A61.11 61.11 0 0 0 830.99 388.31ZM807.60 331.85L809.98 343.84A12.22 12.22 0 0 1 807.60 344.07ZM821.91 403.77L831.44 451.72A122.22 122.22 0 0 1 807.60 454.07L807.60 405.18A73.33 73.33 0 0 0 821.91 403.77ZM807.60 356.29L807.60 368.52A36.67 36.67 0 0 1 800.45 367.81L802.83 355.82A24.44 24.44 0 0 0 807.60 356.29ZM807.60 417.40L807.60 429.62A97.77 97.77 0 0 1 788.53 427.75L790.91 415.76A85.55 85.55 0 0 0 807.60 417.40ZM807.60 441.85L807.60 454.07A122.22 122.22 0 0 1 783.76 451.72L786.14 439.73A110.00 110.00 0 0 0 807.60 441.85ZM807.60 331.85L805.22 343.84A12.22 12.22 0 0 1 802.92 343.14ZM793.29 403.77L790.91 415.76A85.55 85.55 0 0 1 774.86 410.89L779.54 399.60A73.33 73.33 0 0 0 793.29 403.77ZM788.53 427.75L786.14 439.73A110.00 110.00 0 0 1 765.51 433.47L770.18 422.18A97.77 97.77 0 0 0 788.53 427.75ZM807.60 331.85L802.92 343.14A12.22 12.22 0 0 1 800.81 342.01ZM798.25 354.43L793.57 365.72A36.67 36.67 0 0 1 787.23 362.34L794.02 352.17A24.44 24.44 0 0 0 798.25 354.43ZM770.18 422.18L765.51 433.47A110.00 110.00 0 0 1 746.49 423.31L753.28 413.15A97.77 97.77 0 0 0 770.18 422.18ZM760.83 444.76L756.15 456.06A134.44 134.44 0 0 1 732.91 443.63L739.70 433.47A122.22 122.22 0 0 0 760.83 444.76ZM760.07 402.98L753.28 413.15A97.77 97.77 0 0 1 738.46 400.99L747.11 392.34A85.55 85.55 0 0 0 760.07 402.98ZM739.70 433.47L732.91 443.63A134.44 134.44 0 0 1 712.54 426.91L721.18 418.27A122.22 122.22 0 0 0 739.70 433.47ZM738.46 400.99L721.18 418.27A122.22 122.22 0 0 1 705.98 399.75L726.30 386.17A97.77 97.77 0 0 0 738.46 400.99ZM807.60 331.85L796.31 336.53A12.22 12.22 0 0 1 795.61 334.23ZM717.27 369.27L705.98 373.94A110.00 110.00 0 0 1 699.72 353.31L711.70 350.92A97.77 97.77 0 0 0 717.27 369.27ZM807.60 331.85L795.61 334.23A12.22 12.22 0 0 1 795.38 331.85ZM783.63 336.62L771.64 339.00A36.67 36.67 0 0 1 770.93 331.85L783.16 331.85A24.44 24.44 0 0 0 783.63 336.62ZM687.73 355.69L675.74 358.08A134.44 134.44 0 0 1 673.16 331.85L685.38 331.85A122.22 122.22 0 0 0 687.73 355.69ZM697.60 331.85L685.38 331.85A122.22 122.22 0 0 1 687.73 308.01L699.72 310.39A110.00 110.00 0 0 0 697.60 331.85ZM673.16 331.85L660.94 331.85A146.66 146.66 0 0 1 663.76 303.24L675.74 305.62A134.44 134.44 0 0 0 673.16 331.85ZM795.61 329.47L783.63 327.08A24.44 24.44 0 0 1 785.02 322.50L796.31 327.17A12.22 12.22 0 0 0 795.61 329.47ZM699.72 310.39L687.73 308.01A122.22 122.22 0 0 1 694.69 285.08L705.98 289.76A110.00 110.00 0 0 0 699.72 310.39ZM807.60 331.85L796.31 327.17A12.22 12.22 0 0 1 797.44 325.06ZM694.69 285.08L683.39 280.40A134.44 134.44 0 0 1 695.82 257.16L705.98 263.95A122.22 122.22 0 0 0 694.69 285.08ZM807.60 331.85L797.44 325.06A12.22 12.22 0 0 1 798.96 323.21ZM726.30 277.53L716.14 270.74A110.00 110.00 0 0 1 729.82 254.07L738.46 262.71A97.77 97.77 0 0 0 726.30 277.53ZM695.82 257.16L685.66 250.37A146.66 146.66 0 0 1 703.90 228.15L712.54 236.79A134.44 134.44 0 0 0 695.82 257.16ZM807.60 331.85L798.96 323.21A12.22 12.22 0 0 1 800.81 321.69ZM807.60 331.85L800.81 321.69A12.22 12.22 0 0 1 802.92 320.56ZM760.07 260.72L753.28 250.55A97.77 97.77 0 0 1 770.18 241.52L774.86 252.81A85.55 85.55 0 0 0 760.07 260.72ZM732.91 220.07L726.12 209.91A146.66 146.66 0 0 1 751.48 196.35L756.15 207.64A134.44 134.44 0 0 0 732.91 220.07ZM807.60 331.85L802.92 320.56A12.22 12.22 0 0 1 805.22 319.86ZM774.86 252.81L770.18 241.52A97.77 97.77 0 0 1 788.53 235.95L790.91 247.94A85.55 85.55 0 0 0 774.86 252.81ZM807.60 331.85L805.22 319.86A12.22 12.22 0 0 1 807.60 319.63ZM793.29 259.93L788.53 235.95A97.77 97.77 0 0 1 807.60 234.08L807.60 258.52A73.33 73.33 0 0 0 793.29 259.93ZM783.76 211.98L781.37 199.99A134.44 134.44 0 0 1 807.60 197.41L807.60 209.63A122.22 122.22 0 0 0 783.76 211.98Z"/>
<path fill="#dccab5" d="M809.98 319.86L817.14 283.90A48.89 48.89 0 0 1 826.31 286.68L812.28 320.56A12.22 12.22 0 0 0 809.98 319.86ZM812.28 320.56L816.95 309.27A24.44 24.44 0 0 1 821.18 311.53L814.39 321.69A12.22 12.22 0 0 0 812.28 320.56ZM821.63 297.98L826.31 286.68A48.89 48.89 0 0 1 834.76 291.20L827.97 301.36A36.67 36.67 0 0 0 821.63 297.98ZM824.88 314.57L842.17 297.28A48.89 48.89 0 0 1 848.25 304.69L827.92 318.27A24.44 24.44 0 0 0 824.88 314.57ZM827.92 318.27L838.09 311.48A36.67 36.67 0 0 1 841.47 317.82L830.18 322.50A24.44 24.44 0 0 0 827.92 318.27ZM858.41 297.90L868.57 291.11A73.33 73.33 0 0 1 875.35 303.79L864.06 308.46A61.11 61.11 0 0 0 858.41 297.90ZM818.89 327.17L875.35 303.79A73.33 73.33 0 0 1 879.52 317.54L819.59 329.47A12.22 12.22 0 0 0 818.89 327.17ZM819.59 329.47L831.57 327.08A24.44 24.44 0 0 1 832.04 331.85L819.82 331.85A12.22 12.22 0 0 0 819.59 329.47ZM855.55 322.31L867.53 319.93A61.11 61.11 0 0 1 868.71 331.85L856.49 331.85A48.89 48.89 0 0 0 855.55 322.31ZM868.71 331.85L880.93 331.85A73.33 73.33 0 0 1 879.52 346.16L867.53 343.77A61.11 61.11 0 0 0 868.71 331.85ZM831.57 336.62L855.55 341.39A48.89 48.89 0 0 1 852.77 350.56L830.18 341.20A24.44 24.44 0 0 0 831.57 336.62ZM850.81 375.06L859.45 383.70A73.33 73.33 0 0 1 848.34 392.82L841.55 382.66A61.11 61.11 0 0 0 850.81 375.06ZM821.18 352.17L827.97 362.34A36.67 36.67 0 0 1 821.63 365.72L816.95 354.43A24.44 24.44 0 0 0 821.18 352.17ZM841.55 382.66L848.34 392.82A73.33 73.33 0 0 1 835.66 399.60L830.99 388.31A61.11 61.11 0 0 0 841.55 382.66ZM816.95 354.43L821.63 365.72A36.67 36.67 0 0 1 814.75 367.81L812.37 355.82A24.44 24.44 0 0 0 816.95 354.43ZM826.31 377.02L830.99 388.31A61.11 61.11 0 0 1 819.52 391.78L817.14 379.80A48.89 48.89 0 0 0 826.31 377.02ZM812.37 355.82L814.75 367.81A36.67 36.67 0 0 1 807.60 368.52L807.60 356.29A24.44 24.44 0 0 0 812.37 355.82ZM819.52 391.78L821.91 403.77A73.33 73.33 0 0 1 807.60 405.18L807.60 392.96A61.11 61.11 0 0 0 819.52 391.78ZM807.60 344.07L807.60 356.29A24.44 24.44 0 0 1 802.83 355.82L805.22 343.84A12.22 12.22 0 0 0 807.60 344.07ZM807.60 368.52L807.60 392.96A61.11 61.11 0 0 1 795.68 391.78L800.45 367.81A36.67 36.67 0 0 0 807.60 368.52ZM802.83 355.82L800.45 367.81A36.67 36.67 0 0 1 793.57 365.72L798.25 354.43A24.44 24.44 0 0 0 802.83 355.82ZM790.91 415.76L788.53 427.75A97.77 97.77 0 0 1 770.18 422.18L774.86 410.89A85.55 85.55 0 0 0 790.91 415.76ZM783.76 451.72L781.37 463.71A134.44 134.44 0 0 1 756.15 456.06L760.83 444.76A122.22 122.22 0 0 0 783.76 451.72ZM784.21 388.31L774.86 410.89A85.55 85.55 0 0 1 760.07 402.98L773.65 382.66A61.11 61.11 0 0 0 784.21 388.31ZM766.86 392.82L760.07 402.98A85.55 85.55 0 0 1 747.11 392.34L755.75 383.70A73.33 73.33 0 0 0 766.86 392.82ZM746.49 423.31L739.70 433.47A122.22 122.22 0 0 1 721.18 418.27L729.82 409.63A110.00 110.00 0 0 0 746.49 423.31ZM716.14 392.96L705.98 399.75A122.22 122.22 0 0 1 694.69 378.62L705.98 373.94A110.00 110.00 0 0 0 716.14 392.96ZM705.98 373.94L694.69 378.62A122.22 122.22 0 0 1 687.73 355.69L699.72 353.31A110.00 110.00 0 0 0 705.98 373.94ZM711.70 350.92L687.73 355.69A122.22 122.22 0 0 1 685.38 331.85L709.83 331.85A97.77 97.77 0 0 0 711.70 350.92ZM685.38 331.85L673.16 331.85A134.44 134.44 0 0 1 675.74 305.62L687.73 308.01A122.22 122.22 0 0 0 685.38 331.85ZM711.70 312.78L699.72 310.39A110.00 110.00 0 0 1 705.98 289.76L717.27 294.43A97.77 97.77 0 0 0 711.70 312.78ZM717.27 294.43L705.98 289.76A110.00 110.00 0 0 1 716.14 270.74L726.30 277.53A97.77 97.77 0 0 0 717.27 294.43ZM721.18 245.43L712.54 236.79A134.44 134.44 0 0 1 732.91 220.07L739.70 230.23A122.22 122.22 0 0 0 721.18 245.43ZM798.25 309.27L788.89 286.68A48.89 48.89 0 0 1 798.06 283.90L802.83 307.88A24.44 24.44 0 0 0 798.25 309.27ZM784.21 275.39L779.54 264.10A73.33 73.33 0 0 1 793.29 259.93L795.68 271.92A61.11 61.11 0 0 0 784.21 275.39ZM800.45 295.89L798.06 283.90A48.89 48.89 0 0 1 807.60 282.96L807.60 295.18A36.67 36.67 0 0 0 800.45 295.89ZM795.68 271.92L793.29 259.93A73.33 73.33 0 0 1 807.60 258.52L807.60 270.74A61.11 61.11 0 0 0 795.68 271.92Z"/>
<path fill="#9aae80" d="M838.09 311.48L848.25 304.69A48.89 48.89 0 0 1 852.77 313.14L841.47 317.82A36.67 36.67 0 0 0 838.09 311.48ZM832.04 331.85L844.27 331.85A36.67 36.67 0 0 1 843.56 339.00L831.57 336.62A24.44 24.44 0 0 0 832.04 331.85ZM800.45 367.81L798.06 379.80A48.89 48.89 0 0 1 788.89 377.02L793.57 365.72A36.67 36.67 0 0 0 800.45 367.81ZM793.57 365.72L788.89 377.02A48.89 48.89 0 0 1 780.44 372.50L787.23 362.34A36.67 36.67 0 0 0 793.57 365.72ZM747.11 392.34L738.46 400.99A97.77 97.77 0 0 1 726.30 386.17L736.47 379.38A85.55 85.55 0 0 0 747.11 392.34ZM777.11 352.22L766.95 359.01A48.89 48.89 0 0 1 762.43 350.56L773.73 345.88A36.67 36.67 0 0 0 777.11 352.22ZM736.47 379.38L726.30 386.17A97.77 97.77 0 0 1 717.27 369.27L728.56 364.59A85.55 85.55 0 0 0 736.47 379.38ZM722.05 331.85L709.83 331.85A97.77 97.77 0 0 1 711.70 312.78L723.69 315.16A85.55 85.55 0 0 0 722.05 331.85ZM783.63 327.08L759.65 322.31A48.89 48.89 0 0 1 762.43 313.14L785.02 322.50A24.44 24.44 0 0 0 783.63 327.08ZM773.73 317.82L762.43 313.14A48.89 48.89 0 0 1 766.95 304.69L777.11 311.48A36.67 36.67 0 0 0 773.73 317.82ZM756.79 297.90L736.47 284.32A85.55 85.55 0 0 1 747.11 271.36L764.39 288.64A61.11 61.11 0 0 0 756.79 297.90ZM773.03 297.28L764.39 288.64A61.11 61.11 0 0 1 773.65 281.04L780.44 291.20A48.89 48.89 0 0 0 773.03 297.28Z"/>
<path fill="#b6b585" d="M856.49 331.85L868.71 331.85A61.11 61.11 0 0 1 867.53 343.77L855.55 341.39A48.89 48.89 0 0 0 856.49 331.85ZM830.18 341.20L841.47 345.88A36.67 36.67 0 0 1 838.09 352.22L827.92 345.43A24.44 24.44 0 0 0 830.18 341.20ZM848.25 359.01L858.41 365.80A61.11 61.11 0 0 1 850.81 375.06L842.17 366.42A48.89 48.89 0 0 0 848.25 359.01ZM814.75 367.81L817.14 379.80A48.89 48.89 0 0 1 807.60 380.74L807.60 368.52A36.67 36.67 0 0 0 814.75 367.81ZM805.22 343.84L802.83 355.82A24.44 24.44 0 0 1 798.25 354.43L802.92 343.14A12.22 12.22 0 0 0 805.22 343.84ZM798.06 379.80L793.29 403.77A73.33 73.33 0 0 1 779.54 399.60L788.89 377.02A48.89 48.89 0 0 0 798.06 379.80ZM787.28 345.43L777.11 352.22A36.67 36.67 0 0 1 773.73 345.88L785.02 341.20A24.44 24.44 0 0 0 787.28 345.43ZM766.95 359.01L756.79 365.80A61.11 61.11 0 0 1 751.14 355.24L762.43 350.56A48.89 48.89 0 0 0 766.95 359.01ZM723.69 348.54L711.70 350.92A97.77 97.77 0 0 1 709.83 331.85L722.05 331.85A85.55 85.55 0 0 0 723.69 348.54ZM795.38 331.85L770.93 331.85A36.67 36.67 0 0 1 771.64 324.70L795.61 329.47A12.22 12.22 0 0 0 795.38 331.85ZM709.83 331.85L697.60 331.85A110.00 110.00 0 0 1 699.72 310.39L711.70 312.78A97.77 97.77 0 0 0 709.83 331.85ZM705.98 289.76L694.69 285.08A122.22 122.22 0 0 1 705.98 263.95L716.14 270.74A110.00 110.00 0 0 0 705.98 289.76ZM790.32 314.57L773.03 297.28A48.89 48.89 0 0 1 780.44 291.20L794.02 311.53A24.44 24.44 0 0 0 790.32 314.57ZM755.75 280.00L738.46 262.71A97.77 97.77 0 0 1 753.28 250.55L766.86 270.88A73.33 73.33 0 0 0 755.75 280.00ZM794.02 311.53L787.23 301.36A36.67 36.67 0 0 1 793.57 297.98L798.25 309.27A24.44 24.44 0 0 0 794.02 311.53ZM773.65 281.04L766.86 270.88A73.33 73.33 0 0 1 779.54 264.10L784.21 275.39A61.11 61.11 0 0 0 773.65 281.04ZM802.83 307.88L800.45 295.89A36.67 36.67 0 0 1 807.60 295.18L807.60 307.41A24.44 24.44 0 0 0 802.83 307.88Z"/>
<path fill="#5c9c74" d="M788.89 377.02L784.21 388.31A61.11 61.11 0 0 1 773.65 382.66L780.44 372.50A48.89 48.89 0 0 0 788.89 377.02ZM771.64 339.00L747.67 343.77A61.11 61.11 0 0 1 746.49 331.85L770.93 331.85A36.67 36.67 0 0 0 771.64 339.00ZM735.68 346.16L723.69 348.54A85.55 85.55 0 0 1 722.05 331.85L734.27 331.85A73.33 73.33 0 0 0 735.68 346.16ZM770.93 331.85L758.71 331.85A48.89 48.89 0 0 1 759.65 322.31L771.64 324.70A36.67 36.67 0 0 0 770.93 331.85ZM734.27 331.85L722.05 331.85A85.55 85.55 0 0 1 723.69 315.16L735.68 317.54A73.33 73.33 0 0 0 734.27 331.85ZM728.56 299.11L717.27 294.43A97.77 97.77 0 0 1 726.30 277.53L736.47 284.32A85.55 85.55 0 0 0 728.56 299.11ZM798.96 323.21L790.32 314.57A24.44 24.44 0 0 1 794.02 311.53L800.81 321.69A12.22 12.22 0 0 0 798.96 323.21Z"/>
<path fill="#19836e" d="M746.63 372.59L736.47 379.38A85.55 85.55 0 0 1 728.56 364.59L739.85 359.91A73.33 73.33 0 0 0 746.63 372.59ZM773.73 345.88L762.43 350.56A48.89 48.89 0 0 1 759.65 341.39L771.64 339.00A36.67 36.67 0 0 0 773.73 345.88Z"/>
<path fill="#3a9070" d="M739.85 359.91L728.56 364.59A85.55 85.55 0 0 1 723.69 348.54L735.68 346.16A73.33 73.33 0 0 0 739.85 359.91ZM759.65 322.31L723.69 315.16A85.55 85.55 0 0 1 728.56 299.11L762.43 313.14A48.89 48.89 0 0 0 759.65 322.31Z"/>
<path fill="#1c5465" d="M747.67 343.77L735.68 346.16A73.33 73.33 0 0 1 734.27 331.85L746.49 331.85A61.11 61.11 0 0 0 747.67 343.77ZM739.85 303.79L728.56 299.11A85.55 85.55 0 0 1 736.47 284.32L746.63 291.11A73.33 73.33 0 0 0 739.85 303.79Z"/>
<path fill="#0b666c" d="M762.43 313.14L751.14 308.46A61.11 61.11 0 0 1 756.79 297.90L766.95 304.69A48.89 48.89 0 0 0 762.43 313.14ZM766.95 304.69L756.79 297.90A61.11 61.11 0 0 1 764.39 288.64L773.03 297.28A48.89 48.89 0 0 0 766.95 304.69Z"/>
<path fill="#221c36" d="M777.11 311.48L766.95 304.69A48.89 48.89 0 0 1 773.03 297.28L781.67 305.92A36.67 36.67 0 0 0 777.11 311.48Z"/>
</g>
<path d="M807.6 331.85L973.24 166.21M807.6 331.85L973.24 497.49M807.6 331.85L641.96 497.49M807.6 331.85L641.96 166.21M808.5 97.60V566.10M573.35 332.5H1041.85" stroke="#b0b0b0" stroke-width="1.1" fill="none"/>
<circle cx="807.6" cy="331.85" r="40.74" stroke="#b0b0b0" stroke-width="1.1" fill="none"/>
<circle cx="807.6" cy="331.85" r="81.48" stroke="#b0b0b0" stroke-width="1.1" fill="none"/>
<circle cx="807.6" cy="331.85" r="122.22" stroke="#b0b0b0" stroke-width="1.1" fill="none"/>
<circle cx="807.6" cy="331.85" r="162.96" stroke="#b0b0b0" stroke-width="1.1" fill="none"/>
<circle cx="807.6" cy="331.85" r="203.70" stroke="#b0b0b0" stroke-width="1.1" fill="none"/>
</g>
<circle cx="807.6" cy="331.85" r="234.25" stroke="#000" stroke-width="1.1" fill="none"/>
<ellipse cx="1041.85" cy="331.95" rx="0.9" ry="1.2" fill="#000"/>
<g font-size="18.75">
<text x="808.20" y="83.8" text-anchor="middle">N</text>
<text x="808.20" y="592" text-anchor="middle">S</text>
<text x="1062.0" y="338.2" text-anchor="middle">E</text>
<text x="555.0" y="338.2" text-anchor="middle">W</text>
<text x="845.2" y="312.8">0.2</text>
<text x="882.8" y="297.2">0.4</text>
<text x="920.4" y="281.6">0.6</text>
<text x="958.1" y="266.0">0.8</text>
<text x="995.7" y="250.4">1.0</text>
</g>
<text x="807.70" y="60.8" font-size="24.8" text-anchor="middle">NWGOA</text>
</g>
<g>
<circle cx="1341.75" cy="331.85" r="234.25" fill="#eeedf3"/>
<clipPath id="c2"><circle cx="1341.75" cy="331.85" r="234.25"/></clipPath>
<g clip-path="url(#c2)">
<g shape-rendering="crispEdges">
<path fill="#e6dcd9" d="M1341.75 331.85L1341.75 319.63A12.22 12.22 0 0 1 1344.13 319.86ZM1341.75 270.74L1341.75 258.52A73.33 73.33 0 0 1 1356.06 259.93L1353.67 271.92A61.11 61.11 0 0 0 1341.75 270.74ZM1341.75 234.08L1341.75 209.63A122.22 122.22 0 0 1 1365.59 211.98L1360.82 235.95A97.77 97.77 0 0 0 1341.75 234.08ZM1341.75 331.85L1344.13 319.86A12.22 12.22 0 0 1 1346.43 320.56ZM1348.90 295.89L1351.29 283.90A48.89 48.89 0 0 1 1360.46 286.68L1355.78 297.98A36.67 36.67 0 0 0 1348.90 295.89ZM1353.67 271.92L1356.06 259.93A73.33 73.33 0 0 1 1369.81 264.10L1365.14 275.39A61.11 61.11 0 0 0 1353.67 271.92ZM1358.44 247.94L1363.21 223.97A110.00 110.00 0 0 1 1383.84 230.23L1374.49 252.81A85.55 85.55 0 0 0 1358.44 247.94ZM1365.59 211.98L1367.98 199.99A134.44 134.44 0 0 1 1393.20 207.64L1388.52 218.94A122.22 122.22 0 0 0 1365.59 211.98ZM1370.36 188.01L1372.75 176.02A158.88 158.88 0 0 1 1402.55 185.06L1397.87 196.35A146.66 146.66 0 0 0 1370.36 188.01ZM1360.46 286.68L1365.14 275.39A61.11 61.11 0 0 1 1375.70 281.04L1368.91 291.20A48.89 48.89 0 0 0 1360.46 286.68ZM1369.81 264.10L1379.17 241.52A97.77 97.77 0 0 1 1396.07 250.55L1382.49 270.88A73.33 73.33 0 0 0 1369.81 264.10ZM1389.28 260.72L1396.07 250.55A97.77 97.77 0 0 1 1410.89 262.71L1402.24 271.36A85.55 85.55 0 0 0 1389.28 260.72ZM1341.75 331.85L1350.39 323.21A12.22 12.22 0 0 1 1351.91 325.06ZM1367.68 305.92L1376.32 297.28A48.89 48.89 0 0 1 1382.40 304.69L1372.24 311.48A36.67 36.67 0 0 0 1367.68 305.92ZM1419.53 254.07L1436.81 236.79A134.44 134.44 0 0 1 1453.53 257.16L1433.21 270.74A110.00 110.00 0 0 0 1419.53 254.07ZM1341.75 331.85L1351.91 325.06A12.22 12.22 0 0 1 1353.04 327.17ZM1362.07 318.27L1372.24 311.48A36.67 36.67 0 0 1 1375.62 317.82L1364.33 322.50A24.44 24.44 0 0 0 1362.07 318.27ZM1382.40 304.69L1392.56 297.90A61.11 61.11 0 0 1 1398.21 308.46L1386.92 313.14A48.89 48.89 0 0 0 1382.40 304.69ZM1412.88 284.32L1423.05 277.53A97.77 97.77 0 0 1 1432.08 294.43L1420.79 299.11A85.55 85.55 0 0 0 1412.88 284.32ZM1341.75 331.85L1353.04 327.17A12.22 12.22 0 0 1 1353.74 329.47ZM1375.62 317.82L1398.21 308.46A61.11 61.11 0 0 1 1401.68 319.93L1377.71 324.70A36.67 36.67 0 0 0 1375.62 317.82ZM1432.08 294.43L1443.37 289.76A110.00 110.00 0 0 1 1449.63 310.39L1437.65 312.78A97.77 97.77 0 0 0 1432.08 294.43ZM1465.96 280.40L1477.25 275.73A146.66 146.66 0 0 1 1485.59 303.24L1473.61 305.62A134.44 134.44 0 0 0 1465.96 280.40ZM1377.71 324.70L1401.68 319.93A61.11 61.11 0 0 1 1402.86 331.85L1378.42 331.85A36.67 36.67 0 0 0 1377.71 324.70ZM1449.63 310.39L1497.58 300.85A158.88 158.88 0 0 1 1500.63 331.85L1451.75 331.85A110.00 110.00 0 0 0 1449.63 310.39ZM1341.75 331.85L1415.08 331.85A73.33 73.33 0 0 1 1413.67 346.16ZM1451.75 331.85L1476.19 331.85A134.44 134.44 0 0 1 1473.61 358.08L1449.63 353.31A110.00 110.00 0 0 0 1451.75 331.85ZM1500.63 331.85L1525.08 331.85A183.33 183.33 0 0 1 1521.55 367.62L1497.58 362.85A158.88 158.88 0 0 0 1500.63 331.85ZM1341.75 331.85L1377.71 339.00A36.67 36.67 0 0 1 1375.62 345.88ZM1473.61 358.08L1497.58 362.85A158.88 158.88 0 0 1 1488.54 392.65L1465.96 383.30A134.44 134.44 0 0 0 1473.61 358.08ZM1509.57 365.23L1533.54 370.00A195.55 195.55 0 0 1 1522.41 406.68L1499.83 397.33A171.10 171.10 0 0 0 1509.57 365.23ZM1364.33 341.20L1375.62 345.88A36.67 36.67 0 0 1 1372.24 352.22L1362.07 345.43A24.44 24.44 0 0 0 1364.33 341.20ZM1386.92 350.56L1398.21 355.24A61.11 61.11 0 0 1 1392.56 365.80L1382.40 359.01A48.89 48.89 0 0 0 1386.92 350.56ZM1454.66 378.62L1465.96 383.30A134.44 134.44 0 0 1 1453.53 406.54L1443.37 399.75A122.22 122.22 0 0 0 1454.66 378.62ZM1499.83 397.33L1511.12 402.01A183.33 183.33 0 0 1 1494.18 433.70L1484.02 426.91A171.10 171.10 0 0 0 1499.83 397.33ZM1522.41 406.68L1533.70 411.36A207.77 207.77 0 0 1 1514.50 447.28L1504.34 440.49A195.55 195.55 0 0 0 1522.41 406.68ZM1341.75 331.85L1382.40 359.01A48.89 48.89 0 0 1 1376.32 366.42ZM1423.05 386.17L1433.21 392.96A110.00 110.00 0 0 1 1419.53 409.63L1410.89 400.99A97.77 97.77 0 0 0 1423.05 386.17ZM1484.02 426.91L1504.34 440.49A195.55 195.55 0 0 1 1480.02 470.12L1462.74 452.84A171.10 171.10 0 0 0 1484.02 426.91ZM1341.75 331.85L1359.03 349.13A24.44 24.44 0 0 1 1355.33 352.17ZM1376.32 366.42L1384.96 375.06A61.11 61.11 0 0 1 1375.70 382.66L1368.91 372.50A48.89 48.89 0 0 0 1376.32 366.42ZM1454.10 444.20L1462.74 452.84A171.10 171.10 0 0 1 1436.81 474.12L1430.02 463.96A158.88 158.88 0 0 0 1454.10 444.20ZM1471.38 461.48L1480.02 470.12A195.55 195.55 0 0 1 1450.39 494.44L1443.60 484.28A183.33 183.33 0 0 0 1471.38 461.48ZM1341.75 331.85L1368.91 372.50A48.89 48.89 0 0 1 1360.46 377.02ZM1409.65 433.47L1416.44 443.63A134.44 134.44 0 0 1 1393.20 456.06L1388.52 444.76A122.22 122.22 0 0 0 1409.65 433.47ZM1436.81 474.12L1450.39 494.44A195.55 195.55 0 0 1 1416.58 512.51L1407.23 489.93A171.10 171.10 0 0 0 1436.81 474.12ZM1341.75 331.85L1355.78 365.72A36.67 36.67 0 0 1 1348.90 367.81ZM1374.49 410.89L1379.17 422.18A97.77 97.77 0 0 1 1360.82 427.75L1358.44 415.76A85.55 85.55 0 0 0 1374.49 410.89ZM1393.20 456.06L1397.87 467.35A146.66 146.66 0 0 1 1370.36 475.69L1367.98 463.71A134.44 134.44 0 0 0 1393.20 456.06ZM1341.75 331.85L1346.52 355.82A24.44 24.44 0 0 1 1341.75 356.29ZM1365.59 451.72L1367.98 463.71A134.44 134.44 0 0 1 1341.75 466.29L1341.75 454.07A122.22 122.22 0 0 0 1365.59 451.72ZM1341.75 331.85L1341.75 356.29A24.44 24.44 0 0 1 1336.98 355.82ZM1341.75 405.18L1341.75 417.40A85.55 85.55 0 0 1 1325.06 415.76L1327.44 403.77A73.33 73.33 0 0 0 1341.75 405.18ZM1341.75 429.62L1341.75 441.85A110.00 110.00 0 0 1 1320.29 439.73L1322.68 427.75A97.77 97.77 0 0 0 1341.75 429.62ZM1341.75 454.07L1341.75 478.51A146.66 146.66 0 0 1 1313.14 475.69L1317.91 451.72A122.22 122.22 0 0 0 1341.75 454.07ZM1341.75 331.85L1339.37 343.84A12.22 12.22 0 0 1 1337.07 343.14ZM1332.21 379.80L1329.83 391.78A61.11 61.11 0 0 1 1318.36 388.31L1323.04 377.02A48.89 48.89 0 0 0 1332.21 379.80ZM1320.29 439.73L1317.91 451.72A122.22 122.22 0 0 1 1294.98 444.76L1299.66 433.47A110.00 110.00 0 0 0 1320.29 439.73ZM1313.14 475.69L1308.37 499.67A171.10 171.10 0 0 1 1276.27 489.93L1285.63 467.35A146.66 146.66 0 0 0 1313.14 475.69ZM1341.75 331.85L1337.07 343.14A12.22 12.22 0 0 1 1334.96 342.01ZM1327.72 365.72L1318.36 388.31A61.11 61.11 0 0 1 1307.80 382.66L1321.38 362.34A36.67 36.67 0 0 0 1327.72 365.72ZM1313.69 399.60L1309.01 410.89A85.55 85.55 0 0 1 1294.22 402.98L1301.01 392.82A73.33 73.33 0 0 0 1313.69 399.60ZM1341.75 331.85L1328.17 352.17A24.44 24.44 0 0 1 1324.47 349.13ZM1307.80 382.66L1301.01 392.82A73.33 73.33 0 0 1 1289.90 383.70L1298.54 375.06A61.11 61.11 0 0 0 1307.80 382.66ZM1280.64 423.31L1273.85 433.47A122.22 122.22 0 0 1 1255.33 418.27L1263.97 409.63A110.00 110.00 0 0 0 1280.64 423.31ZM1324.47 349.13L1298.54 375.06A61.11 61.11 0 0 1 1290.94 365.80L1321.43 345.43A24.44 24.44 0 0 0 1324.47 349.13ZM1246.69 426.91L1220.76 452.84A171.10 171.10 0 0 1 1199.48 426.91L1229.97 406.54A134.44 134.44 0 0 0 1246.69 426.91ZM1212.12 461.48L1203.48 470.12A195.55 195.55 0 0 1 1179.16 440.49L1189.32 433.70A183.33 183.33 0 0 0 1212.12 461.48ZM1321.43 345.43L1311.26 352.22A36.67 36.67 0 0 1 1307.88 345.88L1319.17 341.20A24.44 24.44 0 0 0 1321.43 345.43ZM1229.97 406.54L1209.64 420.12A158.88 158.88 0 0 1 1194.96 392.65L1217.54 383.30A134.44 134.44 0 0 0 1229.97 406.54ZM1341.75 331.85L1296.58 350.56A48.89 48.89 0 0 1 1293.80 341.39ZM1262.71 364.59L1251.42 369.27A97.77 97.77 0 0 1 1245.85 350.92L1257.84 348.54A85.55 85.55 0 0 0 1262.71 364.59ZM1206.25 387.97L1194.96 392.65A158.88 158.88 0 0 1 1185.92 362.85L1197.91 360.46A146.66 146.66 0 0 0 1206.25 387.97ZM1138.50 416.04L1127.21 420.71A232.21 232.21 0 0 1 1114.00 377.15L1125.99 374.77A219.99 219.99 0 0 0 1138.50 416.04ZM1341.75 331.85L1245.85 350.92A97.77 97.77 0 0 1 1243.98 331.85ZM1221.88 355.69L1209.89 358.08A134.44 134.44 0 0 1 1207.31 331.85L1219.53 331.85A122.22 122.22 0 0 0 1221.88 355.69ZM1341.75 331.85L1329.53 331.85A12.22 12.22 0 0 1 1329.76 329.47ZM1317.31 331.85L1305.08 331.85A36.67 36.67 0 0 1 1305.79 324.70L1317.78 327.08A24.44 24.44 0 0 0 1317.31 331.85ZM1292.86 331.85L1256.20 331.85A85.55 85.55 0 0 1 1257.84 315.16L1293.80 322.31A48.89 48.89 0 0 0 1292.86 331.85ZM1243.98 331.85L1231.75 331.85A110.00 110.00 0 0 1 1233.87 310.39L1245.85 312.78A97.77 97.77 0 0 0 1243.98 331.85ZM1182.87 331.85L1158.42 331.85A183.33 183.33 0 0 1 1161.95 296.08L1185.92 300.85A158.88 158.88 0 0 0 1182.87 331.85ZM1341.75 331.85L1329.76 329.47A12.22 12.22 0 0 1 1330.46 327.17ZM1305.79 324.70L1281.82 319.93A61.11 61.11 0 0 1 1285.29 308.46L1307.88 317.82A36.67 36.67 0 0 0 1305.79 324.70ZM1257.84 315.16L1209.89 305.62A134.44 134.44 0 0 1 1217.54 280.40L1262.71 299.11A85.55 85.55 0 0 0 1257.84 315.16ZM1161.95 296.08L1137.97 291.32A207.77 207.77 0 0 1 1149.80 252.34L1172.38 261.69A183.33 183.33 0 0 0 1161.95 296.08ZM1125.99 288.93L1114.00 286.55A232.21 232.21 0 0 1 1127.21 242.99L1138.50 247.66A219.99 219.99 0 0 0 1125.99 288.93ZM1319.17 322.50L1307.88 317.82A36.67 36.67 0 0 1 1311.26 311.48L1321.43 318.27A24.44 24.44 0 0 0 1319.17 322.50ZM1296.58 313.14L1274.00 303.79A73.33 73.33 0 0 1 1280.78 291.11L1301.10 304.69A48.89 48.89 0 0 0 1296.58 313.14ZM1206.25 275.73L1194.96 271.05A158.88 158.88 0 0 1 1209.64 243.58L1219.81 250.37A146.66 146.66 0 0 0 1206.25 275.73ZM1321.43 318.27L1311.26 311.48A36.67 36.67 0 0 1 1315.82 305.92L1324.47 314.57A24.44 24.44 0 0 0 1321.43 318.27ZM1301.10 304.69L1290.94 297.90A61.11 61.11 0 0 1 1298.54 288.64L1307.18 297.28A48.89 48.89 0 0 0 1301.10 304.69ZM1280.78 291.11L1270.62 284.32A85.55 85.55 0 0 1 1281.26 271.36L1289.90 280.00A73.33 73.33 0 0 0 1280.78 291.11ZM1260.45 277.53L1250.29 270.74A110.00 110.00 0 0 1 1263.97 254.07L1272.61 262.71A97.77 97.77 0 0 0 1260.45 277.53ZM1229.97 257.16L1219.81 250.37A146.66 146.66 0 0 1 1238.05 228.15L1246.69 236.79A134.44 134.44 0 0 0 1229.97 257.16ZM1189.32 230.00L1179.16 223.21A195.55 195.55 0 0 1 1203.48 193.58L1212.12 202.22A183.33 183.33 0 0 0 1189.32 230.00ZM1341.75 331.85L1324.47 314.57A24.44 24.44 0 0 1 1328.17 311.53ZM1255.33 245.43L1246.69 236.79A134.44 134.44 0 0 1 1267.06 220.07L1273.85 230.23A122.22 122.22 0 0 0 1255.33 245.43ZM1238.05 228.15L1229.40 219.50A158.88 158.88 0 0 1 1253.48 199.74L1260.27 209.91A146.66 146.66 0 0 0 1238.05 228.15ZM1194.83 184.93L1186.19 176.29A219.99 219.99 0 0 1 1219.53 148.93L1226.32 159.10A207.77 207.77 0 0 0 1194.83 184.93ZM1328.17 311.53L1314.59 291.20A48.89 48.89 0 0 1 1323.04 286.68L1332.40 309.27A24.44 24.44 0 0 0 1328.17 311.53ZM1294.22 260.72L1287.43 250.55A97.77 97.77 0 0 1 1304.33 241.52L1309.01 252.81A85.55 85.55 0 0 0 1294.22 260.72ZM1341.75 331.85L1337.07 320.56A12.22 12.22 0 0 1 1339.37 319.86ZM1327.72 297.98L1318.36 275.39A61.11 61.11 0 0 1 1329.83 271.92L1334.60 295.89A36.67 36.67 0 0 0 1327.72 297.98ZM1299.66 230.23L1285.63 196.35A146.66 146.66 0 0 1 1313.14 188.01L1320.29 223.97A110.00 110.00 0 0 0 1299.66 230.23ZM1271.59 162.48L1266.92 151.19A195.55 195.55 0 0 1 1303.60 140.06L1305.98 152.05A183.33 183.33 0 0 0 1271.59 162.48ZM1341.75 331.85L1339.37 319.86A12.22 12.22 0 0 1 1341.75 319.63ZM1320.29 223.97L1317.91 211.98A122.22 122.22 0 0 1 1341.75 209.63L1341.75 221.85A110.00 110.00 0 0 0 1320.29 223.97ZM1313.14 188.01L1310.75 176.02A158.88 158.88 0 0 1 1341.75 172.97L1341.75 185.19A146.66 146.66 0 0 0 1313.14 188.01Z"/>
<path fill="#b6b585" d="M1341.75 319.63L1341.75 307.41A24.44 24.44 0 0 1 1346.52 307.88L1344.13 319.86A12.22 12.22 0 0 0 1341.75 319.63ZM1355.33 311.53L1362.12 301.36A36.67 36.67 0 0 1 1367.68 305.92L1359.03 314.57A24.44 24.44 0 0 0 1355.33 311.53ZM1396.07 250.55L1402.86 240.39A110.00 110.00 0 0 1 1419.53 254.07L1410.89 262.71A97.77 97.77 0 0 0 1396.07 250.55ZM1392.56 297.90L1402.72 291.11A73.33 73.33 0 0 1 1409.50 303.79L1398.21 308.46A61.11 61.11 0 0 0 1392.56 297.90ZM1365.72 327.08L1377.71 324.70A36.67 36.67 0 0 1 1378.42 331.85L1366.19 331.85A24.44 24.44 0 0 0 1365.72 327.08ZM1415.08 331.85L1439.52 331.85A97.77 97.77 0 0 1 1437.65 350.92L1413.67 346.16A73.33 73.33 0 0 0 1415.08 331.85ZM1377.71 339.00L1389.70 341.39A48.89 48.89 0 0 1 1386.92 350.56L1375.62 345.88A36.67 36.67 0 0 0 1377.71 339.00ZM1437.65 350.92L1449.63 353.31A110.00 110.00 0 0 1 1443.37 373.94L1432.08 369.27A97.77 97.77 0 0 0 1437.65 350.92ZM1461.62 355.69L1473.61 358.08A134.44 134.44 0 0 1 1465.96 383.30L1454.66 378.62A122.22 122.22 0 0 0 1461.62 355.69ZM1409.50 359.91L1420.79 364.59A85.55 85.55 0 0 1 1412.88 379.38L1402.72 372.59A73.33 73.33 0 0 0 1409.50 359.91ZM1453.53 406.54L1463.69 413.33A146.66 146.66 0 0 1 1445.45 435.55L1436.81 426.91A134.44 134.44 0 0 0 1453.53 406.54ZM1375.70 382.66L1382.49 392.82A73.33 73.33 0 0 1 1369.81 399.60L1365.14 388.31A61.11 61.11 0 0 0 1375.70 382.66ZM1396.07 413.15L1402.86 423.31A110.00 110.00 0 0 1 1383.84 433.47L1379.17 422.18A97.77 97.77 0 0 0 1396.07 413.15ZM1365.14 388.31L1369.81 399.60A73.33 73.33 0 0 1 1356.06 403.77L1353.67 391.78A61.11 61.11 0 0 0 1365.14 388.31ZM1388.52 444.76L1393.20 456.06A134.44 134.44 0 0 1 1367.98 463.71L1365.59 451.72A122.22 122.22 0 0 0 1388.52 444.76ZM1346.52 355.82L1348.90 367.81A36.67 36.67 0 0 1 1341.75 368.52L1341.75 356.29A24.44 24.44 0 0 0 1346.52 355.82ZM1341.75 392.96L1341.75 405.18A73.33 73.33 0 0 1 1327.44 403.77L1329.83 391.78A61.11 61.11 0 0 0 1341.75 392.96ZM1329.83 391.78L1327.44 403.77A73.33 73.33 0 0 1 1313.69 399.60L1318.36 388.31A61.11 61.11 0 0 0 1329.83 391.78ZM1332.40 354.43L1327.72 365.72A36.67 36.67 0 0 1 1321.38 362.34L1328.17 352.17A24.44 24.44 0 0 0 1332.40 354.43ZM1299.66 433.47L1294.98 444.76A122.22 122.22 0 0 1 1273.85 433.47L1280.64 423.31A110.00 110.00 0 0 0 1299.66 433.47ZM1273.85 433.47L1267.06 443.63A134.44 134.44 0 0 1 1246.69 426.91L1255.33 418.27A122.22 122.22 0 0 0 1273.85 433.47ZM1311.26 352.22L1301.10 359.01A48.89 48.89 0 0 1 1296.58 350.56L1307.88 345.88A36.67 36.67 0 0 0 1311.26 352.22ZM1332.21 283.90L1329.83 271.92A61.11 61.11 0 0 1 1341.75 270.74L1341.75 282.96A48.89 48.89 0 0 0 1332.21 283.90Z"/>
<path fill="#dccab5" d="M1341.75 307.41L1341.75 295.18A36.67 36.67 0 0 1 1348.90 295.89L1346.52 307.88A24.44 24.44 0 0 0 1341.75 307.41ZM1344.13 319.86L1348.90 295.89A36.67 36.67 0 0 1 1355.78 297.98L1346.43 320.56A12.22 12.22 0 0 0 1344.13 319.86ZM1356.06 259.93L1358.44 247.94A85.55 85.55 0 0 1 1374.49 252.81L1369.81 264.10A73.33 73.33 0 0 0 1356.06 259.93ZM1362.12 301.36L1368.91 291.20A48.89 48.89 0 0 1 1376.32 297.28L1367.68 305.92A36.67 36.67 0 0 0 1362.12 301.36ZM1409.65 230.23L1416.44 220.07A134.44 134.44 0 0 1 1436.81 236.79L1428.17 245.43A122.22 122.22 0 0 0 1409.65 230.23ZM1350.39 323.21L1359.03 314.57A24.44 24.44 0 0 1 1362.07 318.27L1351.91 325.06A12.22 12.22 0 0 0 1350.39 323.21ZM1402.24 271.36L1419.53 254.07A110.00 110.00 0 0 1 1433.21 270.74L1412.88 284.32A85.55 85.55 0 0 0 1402.24 271.36ZM1351.91 325.06L1362.07 318.27A24.44 24.44 0 0 1 1364.33 322.50L1353.04 327.17A12.22 12.22 0 0 0 1351.91 325.06ZM1372.24 311.48L1382.40 304.69A48.89 48.89 0 0 1 1386.92 313.14L1375.62 317.82A36.67 36.67 0 0 0 1372.24 311.48ZM1402.72 291.11L1412.88 284.32A85.55 85.55 0 0 1 1420.79 299.11L1409.50 303.79A73.33 73.33 0 0 0 1402.72 291.11ZM1443.37 263.95L1453.53 257.16A134.44 134.44 0 0 1 1465.96 280.40L1454.66 285.08A122.22 122.22 0 0 0 1443.37 263.95ZM1353.04 327.17L1375.62 317.82A36.67 36.67 0 0 1 1377.71 324.70L1353.74 329.47A12.22 12.22 0 0 0 1353.04 327.17ZM1420.79 299.11L1432.08 294.43A97.77 97.77 0 0 1 1437.65 312.78L1425.66 315.16A85.55 85.55 0 0 0 1420.79 299.11ZM1401.68 319.93L1413.67 317.54A73.33 73.33 0 0 1 1415.08 331.85L1402.86 331.85A61.11 61.11 0 0 0 1401.68 319.93ZM1476.19 331.85L1500.63 331.85A158.88 158.88 0 0 1 1497.58 362.85L1473.61 358.08A134.44 134.44 0 0 0 1476.19 331.85ZM1389.70 341.39L1401.68 343.77A61.11 61.11 0 0 1 1398.21 355.24L1386.92 350.56A48.89 48.89 0 0 0 1389.70 341.39ZM1425.66 348.54L1437.65 350.92A97.77 97.77 0 0 1 1432.08 369.27L1420.79 364.59A85.55 85.55 0 0 0 1425.66 348.54ZM1375.62 345.88L1386.92 350.56A48.89 48.89 0 0 1 1382.40 359.01L1372.24 352.22A36.67 36.67 0 0 0 1375.62 345.88ZM1443.37 373.94L1454.66 378.62A122.22 122.22 0 0 1 1443.37 399.75L1433.21 392.96A110.00 110.00 0 0 0 1443.37 373.94ZM1465.96 383.30L1477.25 387.97A146.66 146.66 0 0 1 1463.69 413.33L1453.53 406.54A134.44 134.44 0 0 0 1465.96 383.30ZM1473.86 420.12L1484.02 426.91A171.10 171.10 0 0 1 1462.74 452.84L1454.10 444.20A158.88 158.88 0 0 0 1473.86 420.12ZM1445.45 435.55L1454.10 444.20A158.88 158.88 0 0 1 1430.02 463.96L1423.23 453.79A146.66 146.66 0 0 0 1445.45 435.55ZM1416.44 443.63L1423.23 453.79A146.66 146.66 0 0 1 1397.87 467.35L1393.20 456.06A134.44 134.44 0 0 0 1416.44 443.63ZM1430.02 463.96L1436.81 474.12A171.10 171.10 0 0 1 1407.23 489.93L1402.55 478.64A158.88 158.88 0 0 0 1430.02 463.96ZM1348.90 367.81L1353.67 391.78A61.11 61.11 0 0 1 1341.75 392.96L1341.75 368.52A36.67 36.67 0 0 0 1348.90 367.81ZM1372.75 487.68L1375.13 499.67A171.10 171.10 0 0 1 1341.75 502.95L1341.75 490.73A158.88 158.88 0 0 0 1372.75 487.68ZM1341.75 368.52L1341.75 380.74A48.89 48.89 0 0 1 1332.21 379.80L1334.60 367.81A36.67 36.67 0 0 0 1341.75 368.52ZM1339.37 343.84L1336.98 355.82A24.44 24.44 0 0 1 1332.40 354.43L1337.07 343.14A12.22 12.22 0 0 0 1339.37 343.84ZM1327.44 403.77L1322.68 427.75A97.77 97.77 0 0 1 1304.33 422.18L1313.69 399.60A73.33 73.33 0 0 0 1327.44 403.77ZM1309.01 410.89L1304.33 422.18A97.77 97.77 0 0 1 1287.43 413.15L1294.22 402.98A85.55 85.55 0 0 0 1309.01 410.89ZM1328.17 352.17L1314.59 372.50A48.89 48.89 0 0 1 1307.18 366.42L1324.47 349.13A24.44 24.44 0 0 0 1328.17 352.17ZM1287.43 413.15L1280.64 423.31A110.00 110.00 0 0 1 1263.97 409.63L1272.61 400.99A97.77 97.77 0 0 0 1287.43 413.15ZM1289.90 383.70L1263.97 409.63A110.00 110.00 0 0 1 1250.29 392.96L1280.78 372.59A73.33 73.33 0 0 0 1289.90 383.70ZM1255.33 418.27L1246.69 426.91A134.44 134.44 0 0 1 1229.97 406.54L1240.13 399.75A122.22 122.22 0 0 0 1255.33 418.27ZM1301.10 359.01L1280.78 372.59A73.33 73.33 0 0 1 1274.00 359.91L1296.58 350.56A48.89 48.89 0 0 0 1301.10 359.01ZM1270.62 379.38L1260.45 386.17A97.77 97.77 0 0 1 1251.42 369.27L1262.71 364.59A85.55 85.55 0 0 0 1270.62 379.38ZM1274.00 359.91L1262.71 364.59A85.55 85.55 0 0 1 1257.84 348.54L1269.83 346.16A73.33 73.33 0 0 0 1274.00 359.91ZM1240.13 373.94L1228.84 378.62A122.22 122.22 0 0 1 1221.88 355.69L1233.87 353.31A110.00 110.00 0 0 0 1240.13 373.94ZM1183.67 397.33L1172.38 402.01A183.33 183.33 0 0 1 1161.95 367.62L1173.93 365.23A171.10 171.10 0 0 0 1183.67 397.33ZM1197.91 360.46L1185.92 362.85A158.88 158.88 0 0 1 1182.87 331.85L1195.09 331.85A146.66 146.66 0 0 0 1197.91 360.46ZM1329.53 331.85L1317.31 331.85A24.44 24.44 0 0 1 1317.78 327.08L1329.76 329.47A12.22 12.22 0 0 0 1329.53 331.85ZM1256.20 331.85L1243.98 331.85A97.77 97.77 0 0 1 1245.85 312.78L1257.84 315.16A85.55 85.55 0 0 0 1256.20 331.85ZM1231.75 331.85L1219.53 331.85A122.22 122.22 0 0 1 1221.88 308.01L1233.87 310.39A110.00 110.00 0 0 0 1231.75 331.85ZM1329.76 329.47L1317.78 327.08A24.44 24.44 0 0 1 1319.17 322.50L1330.46 327.17A12.22 12.22 0 0 0 1329.76 329.47ZM1197.91 303.24L1185.92 300.85A158.88 158.88 0 0 1 1194.96 271.05L1206.25 275.73A146.66 146.66 0 0 0 1197.91 303.24ZM1262.71 299.11L1228.84 285.08A122.22 122.22 0 0 1 1240.13 263.95L1270.62 284.32A85.55 85.55 0 0 0 1262.71 299.11ZM1290.94 297.90L1280.78 291.11A73.33 73.33 0 0 1 1289.90 280.00L1298.54 288.64A61.11 61.11 0 0 0 1290.94 297.90ZM1240.13 263.95L1229.97 257.16A134.44 134.44 0 0 1 1246.69 236.79L1255.33 245.43A122.22 122.22 0 0 0 1240.13 263.95ZM1298.54 288.64L1289.90 280.00A73.33 73.33 0 0 1 1301.01 270.88L1307.80 281.04A61.11 61.11 0 0 0 1298.54 288.64ZM1272.61 262.71L1255.33 245.43A122.22 122.22 0 0 1 1273.85 230.23L1287.43 250.55A97.77 97.77 0 0 0 1272.61 262.71ZM1314.59 291.20L1307.80 281.04A61.11 61.11 0 0 1 1318.36 275.39L1323.04 286.68A48.89 48.89 0 0 0 1314.59 291.20ZM1337.07 320.56L1327.72 297.98A36.67 36.67 0 0 1 1334.60 295.89L1339.37 319.86A12.22 12.22 0 0 0 1337.07 320.56ZM1339.37 319.86L1334.60 295.89A36.67 36.67 0 0 1 1341.75 295.18L1341.75 319.63A12.22 12.22 0 0 0 1339.37 319.86ZM1327.44 259.93L1320.29 223.97A110.00 110.00 0 0 1 1341.75 221.85L1341.75 258.52A73.33 73.33 0 0 0 1327.44 259.93Z"/>
<path fill="#d2be9b" d="M1341.75 295.18L1341.75 270.74A61.11 61.11 0 0 1 1353.67 271.92L1348.90 295.89A36.67 36.67 0 0 0 1341.75 295.18ZM1341.75 258.52L1341.75 246.30A85.55 85.55 0 0 1 1358.44 247.94L1356.06 259.93A73.33 73.33 0 0 0 1341.75 258.52ZM1355.78 297.98L1360.46 286.68A48.89 48.89 0 0 1 1368.91 291.20L1362.12 301.36A36.67 36.67 0 0 0 1355.78 297.98ZM1368.91 291.20L1389.28 260.72A85.55 85.55 0 0 1 1402.24 271.36L1376.32 297.28A48.89 48.89 0 0 0 1368.91 291.20ZM1393.60 280.00L1402.24 271.36A85.55 85.55 0 0 1 1412.88 284.32L1402.72 291.11A73.33 73.33 0 0 0 1393.60 280.00ZM1443.37 289.76L1454.66 285.08A122.22 122.22 0 0 1 1461.62 308.01L1449.63 310.39A110.00 110.00 0 0 0 1443.37 289.76ZM1425.66 315.16L1437.65 312.78A97.77 97.77 0 0 1 1439.52 331.85L1427.30 331.85A85.55 85.55 0 0 0 1425.66 315.16ZM1401.68 343.77L1413.67 346.16A73.33 73.33 0 0 1 1409.50 359.91L1398.21 355.24A61.11 61.11 0 0 0 1401.68 343.77ZM1449.63 353.31L1461.62 355.69A122.22 122.22 0 0 1 1454.66 378.62L1443.37 373.94A110.00 110.00 0 0 0 1449.63 353.31ZM1488.54 392.65L1499.83 397.33A171.10 171.10 0 0 1 1484.02 426.91L1473.86 420.12A158.88 158.88 0 0 0 1488.54 392.65ZM1382.40 359.01L1423.05 386.17A97.77 97.77 0 0 1 1410.89 400.99L1376.32 366.42A48.89 48.89 0 0 0 1382.40 359.01ZM1433.21 392.96L1453.53 406.54A134.44 134.44 0 0 1 1436.81 426.91L1419.53 409.63A110.00 110.00 0 0 0 1433.21 392.96ZM1359.03 349.13L1376.32 366.42A48.89 48.89 0 0 1 1368.91 372.50L1355.33 352.17A24.44 24.44 0 0 0 1359.03 349.13ZM1393.60 383.70L1402.24 392.34A85.55 85.55 0 0 1 1389.28 402.98L1382.49 392.82A73.33 73.33 0 0 0 1393.60 383.70ZM1368.91 372.50L1375.70 382.66A61.11 61.11 0 0 1 1365.14 388.31L1360.46 377.02A48.89 48.89 0 0 0 1368.91 372.50ZM1382.49 392.82L1389.28 402.98A85.55 85.55 0 0 1 1374.49 410.89L1369.81 399.60A73.33 73.33 0 0 0 1382.49 392.82ZM1383.84 433.47L1388.52 444.76A122.22 122.22 0 0 1 1365.59 451.72L1363.21 439.73A110.00 110.00 0 0 0 1383.84 433.47ZM1397.87 467.35L1402.55 478.64A158.88 158.88 0 0 1 1372.75 487.68L1370.36 475.69A146.66 146.66 0 0 0 1397.87 467.35ZM1363.21 439.73L1365.59 451.72A122.22 122.22 0 0 1 1341.75 454.07L1341.75 441.85A110.00 110.00 0 0 0 1363.21 439.73ZM1341.75 356.29L1341.75 368.52A36.67 36.67 0 0 1 1334.60 367.81L1336.98 355.82A24.44 24.44 0 0 0 1341.75 356.29ZM1341.75 380.74L1341.75 392.96A61.11 61.11 0 0 1 1329.83 391.78L1332.21 379.80A48.89 48.89 0 0 0 1341.75 380.74ZM1341.75 417.40L1341.75 429.62A97.77 97.77 0 0 1 1322.68 427.75L1325.06 415.76A85.55 85.55 0 0 0 1341.75 417.40ZM1341.75 441.85L1341.75 454.07A122.22 122.22 0 0 1 1317.91 451.72L1320.29 439.73A110.00 110.00 0 0 0 1341.75 441.85ZM1322.68 427.75L1320.29 439.73A110.00 110.00 0 0 1 1299.66 433.47L1304.33 422.18A97.77 97.77 0 0 0 1322.68 427.75ZM1318.36 388.31L1313.69 399.60A73.33 73.33 0 0 1 1301.01 392.82L1307.80 382.66A61.11 61.11 0 0 0 1318.36 388.31ZM1304.33 422.18L1299.66 433.47A110.00 110.00 0 0 1 1280.64 423.31L1287.43 413.15A97.77 97.77 0 0 0 1304.33 422.18ZM1290.30 456.06L1285.63 467.35A146.66 146.66 0 0 1 1260.27 453.79L1267.06 443.63A134.44 134.44 0 0 0 1290.30 456.06ZM1314.59 372.50L1307.80 382.66A61.11 61.11 0 0 1 1298.54 375.06L1307.18 366.42A48.89 48.89 0 0 0 1314.59 372.50ZM1280.78 372.59L1270.62 379.38A85.55 85.55 0 0 1 1262.71 364.59L1274.00 359.91A73.33 73.33 0 0 0 1280.78 372.59ZM1250.29 392.96L1240.13 399.75A122.22 122.22 0 0 1 1228.84 378.62L1240.13 373.94A110.00 110.00 0 0 0 1250.29 392.96ZM1305.08 331.85L1292.86 331.85A48.89 48.89 0 0 1 1293.80 322.31L1305.79 324.70A36.67 36.67 0 0 0 1305.08 331.85ZM1317.78 327.08L1305.79 324.70A36.67 36.67 0 0 1 1307.88 317.82L1319.17 322.50A24.44 24.44 0 0 0 1317.78 327.08ZM1281.82 319.93L1257.84 315.16A85.55 85.55 0 0 1 1262.71 299.11L1285.29 308.46A61.11 61.11 0 0 0 1281.82 319.93ZM1274.00 303.79L1262.71 299.11A85.55 85.55 0 0 1 1270.62 284.32L1280.78 291.11A73.33 73.33 0 0 0 1274.00 303.79ZM1311.26 311.48L1301.10 304.69A48.89 48.89 0 0 1 1307.18 297.28L1315.82 305.92A36.67 36.67 0 0 0 1311.26 311.48ZM1307.18 297.28L1298.54 288.64A61.11 61.11 0 0 1 1307.80 281.04L1314.59 291.20A48.89 48.89 0 0 0 1307.18 297.28ZM1287.43 250.55L1280.64 240.39A110.00 110.00 0 0 1 1299.66 230.23L1304.33 241.52A97.77 97.77 0 0 0 1287.43 250.55ZM1318.36 275.39L1309.01 252.81A85.55 85.55 0 0 1 1325.06 247.94L1329.83 271.92A61.11 61.11 0 0 0 1318.36 275.39ZM1334.60 295.89L1332.21 283.90A48.89 48.89 0 0 1 1341.75 282.96L1341.75 295.18A36.67 36.67 0 0 0 1334.60 295.89Z"/>
<path fill="#9aae80" d="M1376.32 297.28L1384.96 288.64A61.11 61.11 0 0 1 1392.56 297.90L1382.40 304.69A48.89 48.89 0 0 0 1376.32 297.28ZM1413.67 317.54L1425.66 315.16A85.55 85.55 0 0 1 1427.30 331.85L1415.08 331.85A73.33 73.33 0 0 0 1413.67 317.54ZM1463.69 413.33L1473.86 420.12A158.88 158.88 0 0 1 1454.10 444.20L1445.45 435.55A146.66 146.66 0 0 0 1463.69 413.33ZM1419.53 409.63L1445.45 435.55A146.66 146.66 0 0 1 1423.23 453.79L1402.86 423.31A110.00 110.00 0 0 0 1419.53 409.63ZM1360.82 427.75L1363.21 439.73A110.00 110.00 0 0 1 1341.75 441.85L1341.75 429.62A97.77 97.77 0 0 0 1360.82 427.75ZM1296.58 350.56L1285.29 355.24A61.11 61.11 0 0 1 1281.82 343.77L1293.80 341.39A48.89 48.89 0 0 0 1296.58 350.56ZM1281.26 271.36L1272.61 262.71A97.77 97.77 0 0 1 1287.43 250.55L1294.22 260.72A85.55 85.55 0 0 0 1281.26 271.36ZM1329.83 271.92L1327.44 259.93A73.33 73.33 0 0 1 1341.75 258.52L1341.75 270.74A61.11 61.11 0 0 0 1329.83 271.92Z"/>
<path fill="#5c9c74" d="M1398.21 308.46L1409.50 303.79A73.33 73.33 0 0 1 1413.67 317.54L1401.68 319.93A61.11 61.11 0 0 0 1398.21 308.46ZM1437.65 312.78L1449.63 310.39A110.00 110.00 0 0 1 1451.75 331.85L1439.52 331.85A97.77 97.77 0 0 0 1437.65 312.78ZM1432.08 369.27L1443.37 373.94A110.00 110.00 0 0 1 1433.21 392.96L1423.05 386.17A97.77 97.77 0 0 0 1432.08 369.27ZM1410.89 400.99L1419.53 409.63A110.00 110.00 0 0 1 1402.86 423.31L1396.07 413.15A97.77 97.77 0 0 0 1410.89 400.99ZM1379.17 422.18L1383.84 433.47A110.00 110.00 0 0 1 1363.21 439.73L1360.82 427.75A97.77 97.77 0 0 0 1379.17 422.18ZM1334.60 367.81L1332.21 379.80A48.89 48.89 0 0 1 1323.04 377.02L1327.72 365.72A36.67 36.67 0 0 0 1334.60 367.81Z"/>
<path fill="#7da578" d="M1413.67 346.16L1425.66 348.54A85.55 85.55 0 0 1 1420.79 364.59L1409.50 359.91A73.33 73.33 0 0 0 1413.67 346.16ZM1402.24 392.34L1410.89 400.99A97.77 97.77 0 0 1 1396.07 413.15L1389.28 402.98A85.55 85.55 0 0 0 1402.24 392.34ZM1389.28 402.98L1396.07 413.15A97.77 97.77 0 0 1 1379.17 422.18L1374.49 410.89A85.55 85.55 0 0 0 1389.28 402.98ZM1355.78 365.72L1360.46 377.02A48.89 48.89 0 0 1 1351.29 379.80L1348.90 367.81A36.67 36.67 0 0 0 1355.78 365.72ZM1369.81 399.60L1374.49 410.89A85.55 85.55 0 0 1 1358.44 415.76L1356.06 403.77A73.33 73.33 0 0 0 1369.81 399.60ZM1353.67 391.78L1356.06 403.77A73.33 73.33 0 0 1 1341.75 405.18L1341.75 392.96A61.11 61.11 0 0 0 1353.67 391.78ZM1337.07 343.14L1332.40 354.43A24.44 24.44 0 0 1 1328.17 352.17L1334.96 342.01A12.22 12.22 0 0 0 1337.07 343.14ZM1270.62 284.32L1260.45 277.53A97.77 97.77 0 0 1 1272.61 262.71L1281.26 271.36A85.55 85.55 0 0 0 1270.62 284.32Z"/>
<path fill="#3a9070" d="M1477.25 387.97L1488.54 392.65A158.88 158.88 0 0 1 1473.86 420.12L1463.69 413.33A146.66 146.66 0 0 0 1477.25 387.97ZM1402.86 423.31L1409.65 433.47A122.22 122.22 0 0 1 1388.52 444.76L1383.84 433.47A110.00 110.00 0 0 0 1402.86 423.31ZM1356.06 403.77L1360.82 427.75A97.77 97.77 0 0 1 1341.75 429.62L1341.75 405.18A73.33 73.33 0 0 0 1356.06 403.77Z"/>
<path fill="#19836e" d="M1360.46 377.02L1365.14 388.31A61.11 61.11 0 0 1 1353.67 391.78L1351.29 379.80A48.89 48.89 0 0 0 1360.46 377.02Z"/>
</g>
<path d="M1341.75 331.85L1507.39 166.21M1341.75 331.85L1507.39 497.49M1341.75 331.85L1176.11 497.49M1341.75 331.85L1176.11 166.21M1342.5 97.60V566.10M1107.50 332.5H1576.00" stroke="#b0b0b0" stroke-width="1.1" fill="none"/>
<circle cx="1341.75" cy="331.85" r="40.74" stroke="#b0b0b0" stroke-width="1.1" fill="none"/>
<circle cx="1341.75" cy="331.85" r="81.48" stroke="#b0b0b0" stroke-width="1.1" fill="none"/>
<circle cx="1341.75" cy="331.85" r="122.22" stroke="#b0b0b0" stroke-width="1.1" fill="none"/>
<circle cx="1341.75" cy="331.85" r="162.96" stroke="#b0b0b0" stroke-width="1.1" fill="none"/>
<circle cx="1341.75" cy="331.85" r="203.70" stroke="#b0b0b0" stroke-width="1.1" fill="none"/>
</g>
<circle cx="1341.75" cy="331.85" r="234.25" stroke="#000" stroke-width="1.1" fill="none"/>
<ellipse cx="1576.00" cy="331.95" rx="0.9" ry="1.2" fill="#000"/>
<g font-size="18.75">
<text x="1342.35" y="83.8" text-anchor="middle">N</text>
<text x="1342.35" y="592" text-anchor="middle">S</text>
<text x="1596.2" y="338.2" text-anchor="middle">E</text>
<text x="1089.1" y="338.2" text-anchor="middle">W</text>
<text x="1379.3" y="312.8">0.2</text>
<text x="1417.0" y="297.2">0.4</text>
<text x="1454.6" y="281.6">0.6</text>
<text x="1492.2" y="266.0">0.8</text>
<text x="1529.8" y="250.4">1.0</text>
</g>
<text x="1341.85" y="60.8" font-size="24.8" text-anchor="middle">CIOFS-NWGOA</text>
</g>
<text x="805.5" y="32" font-size="27.78" text-anchor="middle">Nov 2008</text>
<defs><linearGradient id="cb" x1="0" x2="1" y1="0" y2="0">
<stop offset="0.0000" stop-color="#eeedf3"/>
<stop offset="0.0625" stop-color="#e6dcd9"/>
<stop offset="0.1250" stop-color="#dccab5"/>
<stop offset="0.1875" stop-color="#d2be9b"/>
<stop offset="0.2500" stop-color="#b6b585"/>
<stop offset="0.3125" stop-color="#9aae80"/>
<stop offset="0.3750" stop-color="#7da578"/>
<stop offset="0.4375" stop-color="#5c9c74"/>
<stop offset="0.5000" stop-color="#3a9070"/>
<stop offset="0.5625" stop-color="#19836e"/>
<stop offset="0.6250" stop-color="#05746d"/>
<stop offset="0.6875" stop-color="#0b666c"/>
<stop offset="0.7500" stop-color="#1c5465"/>
<stop offset="0.8125" stop-color="#25445c"/>
<stop offset="0.8750" stop-color="#283650"/>
<stop offset="0.9375" stop-color="#262942"/>
<stop offset="1.0000" stop-color="#221c36"/>
</linearGradient></defs>
<rect x="406.2" y="605.5" width="800.0" height="30.0" fill="url(#cb)" stroke="#000" stroke-width="1.1"/>
<g font-size="22.2" text-anchor="middle">
<text x="406.2" y="680.8">0</text>
<text x="506.2" y="680.8">2</text>
<text x="606.2" y="680.8">4</text>
<text x="706.2" y="680.8">6</text>
<text x="806.2" y="680.8">8</text>
<text x="906.2" y="680.8">10</text>
<text x="1006.2" y="680.8">12</text>
<text x="1106.2" y="680.8">14</text>
<text x="1206.2" y="680.8">16</text>
</g>
<path d="M406.20 635.5v21.8M506.20 635.5v21.8M606.20 635.5v21.8M706.20 635.5v21.8M806.20 635.5v21.8M906.20 635.5v21.8M1006.20 635.5v21.8M1106.20 635.5v21.8M1206.20 635.5v21.8" stroke="#000" stroke-width="1.1" fill="none"/>
<text x="805.3" y="709" font-size="22.3" text-anchor="middle">Currents [m/s] at COI0518; number of occurrences</text>
</svg>
</body></html>
